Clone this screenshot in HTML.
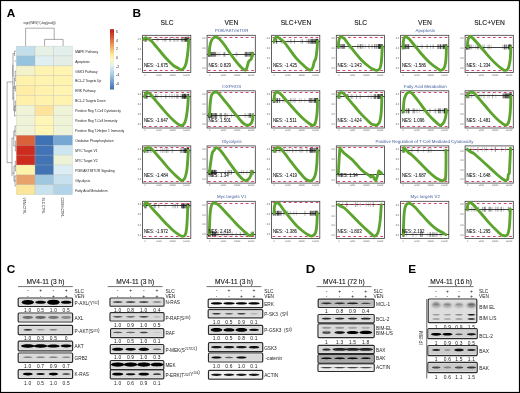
<!DOCTYPE html><html><head><meta charset="utf-8"><style>html,body{margin:0;padding:0;background:#fff;overflow:hidden}svg{display:block;will-change:transform}</style></head><body><svg width="520" height="393" viewBox="0 0 520 393" font-family='"Liberation Sans", sans-serif'>
<defs><filter id="bl" x="-30%" y="-100%" width="160%" height="300%"><feGaussianBlur stdDeviation="0.45"/></filter><filter id="bl2" x="-40%" y="-100%" width="180%" height="300%"><feGaussianBlur stdDeviation="0.9"/></filter></defs>
<rect x="0" y="0" width="520" height="393" fill="#fff"/>
<text x="6.80" y="16.60" font-size="11.8" fill="#000" text-anchor="start" font-weight="bold" >A</text>
<rect x="16.30" y="46.10" width="18.73" height="9.91" fill="#c2dfeb" stroke="#b8b8b0" stroke-width="0.35" stroke-opacity="0.7"/>
<rect x="35.03" y="46.10" width="18.73" height="9.91" fill="#e6f0e4" stroke="#b8b8b0" stroke-width="0.35" stroke-opacity="0.7"/>
<rect x="53.76" y="46.10" width="18.73" height="9.91" fill="#e2efec" stroke="#b8b8b0" stroke-width="0.35" stroke-opacity="0.7"/>
<rect x="16.30" y="56.01" width="18.73" height="9.91" fill="#96c3de" stroke="#b8b8b0" stroke-width="0.35" stroke-opacity="0.7"/>
<rect x="35.03" y="56.01" width="18.73" height="9.91" fill="#e0f0f2" stroke="#b8b8b0" stroke-width="0.35" stroke-opacity="0.7"/>
<rect x="53.76" y="56.01" width="18.73" height="9.91" fill="#e5eee6" stroke="#b8b8b0" stroke-width="0.35" stroke-opacity="0.7"/>
<rect x="16.30" y="65.92" width="18.73" height="9.91" fill="#f4f2cb" stroke="#b8b8b0" stroke-width="0.35" stroke-opacity="0.7"/>
<rect x="35.03" y="65.92" width="18.73" height="9.91" fill="#fff3b0" stroke="#b8b8b0" stroke-width="0.35" stroke-opacity="0.7"/>
<rect x="53.76" y="65.92" width="18.73" height="9.91" fill="#fff4b2" stroke="#b8b8b0" stroke-width="0.35" stroke-opacity="0.7"/>
<rect x="16.30" y="75.83" width="18.73" height="9.91" fill="#fff2ab" stroke="#b8b8b0" stroke-width="0.35" stroke-opacity="0.7"/>
<rect x="35.03" y="75.83" width="18.73" height="9.91" fill="#fff3b0" stroke="#b8b8b0" stroke-width="0.35" stroke-opacity="0.7"/>
<rect x="53.76" y="75.83" width="18.73" height="9.91" fill="#fff3b0" stroke="#b8b8b0" stroke-width="0.35" stroke-opacity="0.7"/>
<rect x="16.30" y="85.74" width="18.73" height="9.91" fill="#ffeda5" stroke="#b8b8b0" stroke-width="0.35" stroke-opacity="0.7"/>
<rect x="35.03" y="85.74" width="18.73" height="9.91" fill="#fff2ad" stroke="#b8b8b0" stroke-width="0.35" stroke-opacity="0.7"/>
<rect x="53.76" y="85.74" width="18.73" height="9.91" fill="#fff4b2" stroke="#b8b8b0" stroke-width="0.35" stroke-opacity="0.7"/>
<rect x="16.30" y="95.65" width="18.73" height="9.91" fill="#fff1aa" stroke="#b8b8b0" stroke-width="0.35" stroke-opacity="0.7"/>
<rect x="35.03" y="95.65" width="18.73" height="9.91" fill="#fff2ad" stroke="#b8b8b0" stroke-width="0.35" stroke-opacity="0.7"/>
<rect x="53.76" y="95.65" width="18.73" height="9.91" fill="#fff3b0" stroke="#b8b8b0" stroke-width="0.35" stroke-opacity="0.7"/>
<rect x="16.30" y="105.56" width="18.73" height="9.91" fill="#eff3d8" stroke="#b8b8b0" stroke-width="0.35" stroke-opacity="0.7"/>
<rect x="35.03" y="105.56" width="18.73" height="9.91" fill="#fde49a" stroke="#b8b8b0" stroke-width="0.35" stroke-opacity="0.7"/>
<rect x="53.76" y="105.56" width="18.73" height="9.91" fill="#eff3d8" stroke="#b8b8b0" stroke-width="0.35" stroke-opacity="0.7"/>
<rect x="16.30" y="115.47" width="18.73" height="9.91" fill="#eff3d8" stroke="#b8b8b0" stroke-width="0.35" stroke-opacity="0.7"/>
<rect x="35.03" y="115.47" width="18.73" height="9.91" fill="#fff5b5" stroke="#b8b8b0" stroke-width="0.35" stroke-opacity="0.7"/>
<rect x="53.76" y="115.47" width="18.73" height="9.91" fill="#eff3d8" stroke="#b8b8b0" stroke-width="0.35" stroke-opacity="0.7"/>
<rect x="16.30" y="125.38" width="18.73" height="9.91" fill="#eff3d8" stroke="#b8b8b0" stroke-width="0.35" stroke-opacity="0.7"/>
<rect x="35.03" y="125.38" width="18.73" height="9.91" fill="#fff5b5" stroke="#b8b8b0" stroke-width="0.35" stroke-opacity="0.7"/>
<rect x="53.76" y="125.38" width="18.73" height="9.91" fill="#eff3d8" stroke="#b8b8b0" stroke-width="0.35" stroke-opacity="0.7"/>
<rect x="16.30" y="135.29" width="18.73" height="9.91" fill="#d9623b" stroke="#b8b8b0" stroke-width="0.35" stroke-opacity="0.7"/>
<rect x="35.03" y="135.29" width="18.73" height="9.91" fill="#3f72b4" stroke="#b8b8b0" stroke-width="0.35" stroke-opacity="0.7"/>
<rect x="53.76" y="135.29" width="18.73" height="9.91" fill="#77a8d3" stroke="#b8b8b0" stroke-width="0.35" stroke-opacity="0.7"/>
<rect x="16.30" y="145.20" width="18.73" height="9.91" fill="#cc2b1e" stroke="#b8b8b0" stroke-width="0.35" stroke-opacity="0.7"/>
<rect x="35.03" y="145.20" width="18.73" height="9.91" fill="#4273b5" stroke="#b8b8b0" stroke-width="0.35" stroke-opacity="0.7"/>
<rect x="53.76" y="145.20" width="18.73" height="9.91" fill="#cde5f0" stroke="#b8b8b0" stroke-width="0.35" stroke-opacity="0.7"/>
<rect x="16.30" y="155.11" width="18.73" height="9.91" fill="#cc2b1e" stroke="#b8b8b0" stroke-width="0.35" stroke-opacity="0.7"/>
<rect x="35.03" y="155.11" width="18.73" height="9.91" fill="#4273b5" stroke="#b8b8b0" stroke-width="0.35" stroke-opacity="0.7"/>
<rect x="53.76" y="155.11" width="18.73" height="9.91" fill="#eef3d8" stroke="#b8b8b0" stroke-width="0.35" stroke-opacity="0.7"/>
<rect x="16.30" y="165.02" width="18.73" height="9.91" fill="#fff3aa" stroke="#b8b8b0" stroke-width="0.35" stroke-opacity="0.7"/>
<rect x="35.03" y="165.02" width="18.73" height="9.91" fill="#4273b5" stroke="#b8b8b0" stroke-width="0.35" stroke-opacity="0.7"/>
<rect x="53.76" y="165.02" width="18.73" height="9.91" fill="#dcedf3" stroke="#b8b8b0" stroke-width="0.35" stroke-opacity="0.7"/>
<rect x="16.30" y="174.93" width="18.73" height="9.91" fill="#e6a26a" stroke="#b8b8b0" stroke-width="0.35" stroke-opacity="0.7"/>
<rect x="35.03" y="174.93" width="18.73" height="9.91" fill="#9fc8e0" stroke="#b8b8b0" stroke-width="0.35" stroke-opacity="0.7"/>
<rect x="53.76" y="174.93" width="18.73" height="9.91" fill="#c8e1ee" stroke="#b8b8b0" stroke-width="0.35" stroke-opacity="0.7"/>
<rect x="16.30" y="184.84" width="18.73" height="9.91" fill="#fbe59a" stroke="#b8b8b0" stroke-width="0.35" stroke-opacity="0.7"/>
<rect x="35.03" y="184.84" width="18.73" height="9.91" fill="#c8e2ee" stroke="#b8b8b0" stroke-width="0.35" stroke-opacity="0.7"/>
<rect x="53.76" y="184.84" width="18.73" height="9.91" fill="#b3d3e8" stroke="#b8b8b0" stroke-width="0.35" stroke-opacity="0.7"/>
<text x="75.20" y="52.76" font-size="3.3" fill="#222" text-anchor="start" font-weight="normal" >MAPK Pathway</text>
<text x="75.20" y="62.67" font-size="3.3" fill="#222" text-anchor="start" font-weight="normal" >Apoptosis</text>
<text x="75.20" y="72.58" font-size="3.3" fill="#222" text-anchor="start" font-weight="normal" >GSK3 Pathway</text>
<text x="75.20" y="82.48" font-size="3.3" fill="#222" text-anchor="start" font-weight="normal" >BCL-2 Targets Up</text>
<text x="75.20" y="92.40" font-size="3.3" fill="#222" text-anchor="start" font-weight="normal" >ERK Pathway</text>
<text x="75.20" y="102.31" font-size="3.3" fill="#222" text-anchor="start" font-weight="normal" >BCL-2 Targets Down</text>
<text x="75.20" y="112.22" font-size="3.3" fill="#222" text-anchor="start" font-weight="normal" >Positive Reg T-Cell Cytotoxicity</text>
<text x="75.20" y="122.12" font-size="3.3" fill="#222" text-anchor="start" font-weight="normal" >Positive Reg T-Cell Immunity</text>
<text x="75.20" y="132.03" font-size="3.3" fill="#222" text-anchor="start" font-weight="normal" >Positive Reg T-Helper 1 Immunity</text>
<text x="75.20" y="141.94" font-size="3.3" fill="#222" text-anchor="start" font-weight="normal" >Oxidative Phosphorylation</text>
<text x="75.20" y="151.85" font-size="3.3" fill="#222" text-anchor="start" font-weight="normal" >MYC Target V1</text>
<text x="75.20" y="161.77" font-size="3.3" fill="#222" text-anchor="start" font-weight="normal" >MYC Target V2</text>
<text x="75.20" y="171.68" font-size="3.3" fill="#222" text-anchor="start" font-weight="normal" >PI3K/AKT/MTOR Signaling</text>
<text x="75.20" y="181.59" font-size="3.3" fill="#222" text-anchor="start" font-weight="normal" >Glycolysis</text>
<text x="75.20" y="191.50" font-size="3.3" fill="#222" text-anchor="start" font-weight="normal" >Fatty Acid Metabolism</text>
<text x="39.50" y="24.20" font-size="3.3" fill="#333" text-anchor="middle" font-weight="normal" >sign(NES)*(-log(padj))</text>
<path d="M25.6 46 V28.2 H54.2 V39.4 M44.6 46 V39.4 H63.1 V46" stroke="#555" stroke-width="0.5" fill="none"/>
<path d="M16 51 H14.6 V56 M16 61 H14.6 M14.6 53.5 H13 V77 M16 71 H15.2 V81 H16 M16 76 H15.2 M16 86 H15.3 V91 H16 M15.2 78.5 H14.3 V88.5 H15.3 M14.3 83.5 H13.8 M16 101 H15.3 V111 H16 M16 106 H15.3 M16 116 H15.3 M15.3 106 H14.6 V116 H15.3 M14.6 111 H13.8 V86 M13.8 98 H12.9 M12.9 65 H12.8 V100 M12.8 82 H7.1 V162.6 H12 " stroke="#555" stroke-width="0.5" fill="none"/>
<path d="M16 126 H15 V136 H16 M16 131 H15 M16 141 H15.4 V151 H16 M15.4 146 H15 M15 131 H13.8 V146 H15 M13.8 138 H12 V176 M16 161 H15.3 V171 H16 M16 166 H15.3 M16 176 H15 V186 H16 M16 181 H15 M15.3 166 H14 V181 H15 M14 173 H12" stroke="#555" stroke-width="0.5" fill="none"/>
<text x="23.36" y="197.5" font-size="3.4" fill="#222" transform="rotate(90 23.36 197.5)">VEN.CTRL</text>
<text x="42.10" y="197.5" font-size="3.4" fill="#222" transform="rotate(90 42.10 197.5)">SLC.CTRL</text>
<text x="60.83" y="197.5" font-size="3.4" fill="#222" transform="rotate(90 60.83 197.5)">COMB.CTRL</text>
<defs><linearGradient id="lg" x1="0" y1="0" x2="0" y2="1"><stop offset="0" stop-color="#c01a1a"/><stop offset="0.12" stop-color="#d0503a"/><stop offset="0.3" stop-color="#f0b060"/><stop offset="0.42" stop-color="#fde89a"/><stop offset="0.50" stop-color="#fff6c0"/><stop offset="0.60" stop-color="#e6f2ee"/><stop offset="0.75" stop-color="#a8cde4"/><stop offset="1" stop-color="#3a6db0"/></linearGradient></defs>
<rect x="110" y="29.2" width="4" height="60.3" fill="url(#lg)"/>
<text x="116.00" y="33.20" font-size="3.5" fill="#222" text-anchor="start" font-weight="normal" >6</text>
<text x="116.00" y="41.60" font-size="3.5" fill="#222" text-anchor="start" font-weight="normal" >4</text>
<text x="116.00" y="50.20" font-size="3.5" fill="#222" text-anchor="start" font-weight="normal" >2</text>
<text x="116.00" y="58.70" font-size="3.5" fill="#222" text-anchor="start" font-weight="normal" >0</text>
<text x="116.00" y="67.60" font-size="3.5" fill="#222" text-anchor="start" font-weight="normal" >-2</text>
<text x="116.00" y="76.00" font-size="3.5" fill="#222" text-anchor="start" font-weight="normal" >-4</text>
<text x="116.00" y="84.50" font-size="3.5" fill="#222" text-anchor="start" font-weight="normal" >-6</text>
<text x="132.50" y="16.80" font-size="11.8" fill="#000" text-anchor="start" font-weight="bold" >B</text>
<text x="167.00" y="25.40" font-size="6.7" fill="#111" text-anchor="middle" font-weight="normal" stroke="#111" stroke-width="0.1">SLC</text>
<text x="231.50" y="25.40" font-size="6.7" fill="#111" text-anchor="middle" font-weight="normal" stroke="#111" stroke-width="0.1">VEN</text>
<text x="296.00" y="25.40" font-size="6.7" fill="#111" text-anchor="middle" font-weight="normal" stroke="#111" stroke-width="0.1">SLC+VEN</text>
<text x="360.70" y="25.40" font-size="6.7" fill="#111" text-anchor="middle" font-weight="normal" stroke="#111" stroke-width="0.1">SLC</text>
<text x="425.00" y="25.40" font-size="6.7" fill="#111" text-anchor="middle" font-weight="normal" stroke="#111" stroke-width="0.1">VEN</text>
<text x="489.50" y="25.40" font-size="6.7" fill="#111" text-anchor="middle" font-weight="normal" stroke="#111" stroke-width="0.1">SLC+VEN</text>
<text x="231.70" y="32.30" font-size="4.4" fill="#3d5a9c" text-anchor="middle" font-weight="normal" text-rendering="geometricPrecision">PI3K/AKT/mTOR</text>
<text x="425.20" y="32.30" font-size="4.4" fill="#3d5a9c" text-anchor="middle" font-weight="normal" text-rendering="geometricPrecision">Apoptosis</text>
<text x="231.70" y="87.80" font-size="4.4" fill="#3d5a9c" text-anchor="middle" font-weight="normal" text-rendering="geometricPrecision">OXPHOS</text>
<text x="425.20" y="87.80" font-size="4.4" fill="#3d5a9c" text-anchor="middle" font-weight="normal" text-rendering="geometricPrecision">Fatty Acid Metabolism</text>
<text x="231.70" y="142.90" font-size="4.4" fill="#3d5a9c" text-anchor="middle" font-weight="normal" text-rendering="geometricPrecision">Glycolysis</text>
<text x="231.70" y="198.30" font-size="4.4" fill="#3d5a9c" text-anchor="middle" font-weight="normal" text-rendering="geometricPrecision">Myc targets V1</text>
<text x="425.20" y="198.30" font-size="4.4" fill="#3d5a9c" text-anchor="middle" font-weight="normal" text-rendering="geometricPrecision">Myc targets V2</text>
<text x="424.50" y="142.90" font-size="4.4" fill="#3d5a9c" text-anchor="middle" font-weight="normal" text-rendering="geometricPrecision">Positive Regulation of T-Cell Mediated Cytotoxicity</text>
<text x="141.20" y="39.60" font-size="2.4" fill="#555" text-anchor="end" font-weight="normal" text-rendering="geometricPrecision">0.0</text>
<text x="141.20" y="49.60" font-size="2.4" fill="#555" text-anchor="end" font-weight="normal" text-rendering="geometricPrecision">0.0</text>
<text x="141.20" y="59.60" font-size="2.4" fill="#555" text-anchor="end" font-weight="normal" text-rendering="geometricPrecision">0.0</text>
<text x="141.20" y="69.60" font-size="2.4" fill="#555" text-anchor="end" font-weight="normal" text-rendering="geometricPrecision">0.0</text>
<text x="145.10" y="75.80" font-size="2.3" fill="#555" text-anchor="middle" font-weight="normal" text-rendering="geometricPrecision">0</text>
<text x="158.90" y="75.80" font-size="2.3" fill="#555" text-anchor="middle" font-weight="normal" text-rendering="geometricPrecision">5000</text>
<text x="172.70" y="75.80" font-size="2.3" fill="#555" text-anchor="middle" font-weight="normal" text-rendering="geometricPrecision">10000</text>
<text x="186.50" y="75.80" font-size="2.3" fill="#555" text-anchor="middle" font-weight="normal" text-rendering="geometricPrecision">15000</text>
<rect x="142.60" y="35.30" width="48.2" height="37.2" fill="#fff" stroke="#3a3a3a" stroke-width="0.8"/>
<path d="M187.5 36.9v4.8M187.2 36.9v4.8M188.7 36.9v4.8M188.1 36.9v4.8M181.1 36.9v4.8M188.5 36.9v4.8M184.9 36.9v4.8M188.2 36.9v4.8M145.2 36.9v4.8M145.7 36.9v4.8M187.9 36.9v4.8M166.0 36.9v4.8M183.2 36.9v4.8M164.5 36.9v4.8" stroke="#000" stroke-opacity="0.38" stroke-width="0.5"/>
<path d="M188.4 36.9v4.8M188.7 36.9v4.8M188.6 36.9v4.8M185.0 36.9v4.8M188.7 36.9v4.8M187.6 36.9v4.8M187.1 36.9v4.8M184.5 36.9v4.8M144.7 36.9v4.8M145.5 36.9v4.8M149.4 36.9v4.8M145.9 36.9v4.8M158.1 36.9v4.8M181.6 36.9v4.8" stroke="#000" stroke-opacity="0.38" stroke-width="0.5"/>
<path d="M184.8 36.9v4.8M186.1 36.9v4.8M186.8 36.9v4.8M181.4 36.9v4.8M182.5 36.9v4.8M183.0 36.9v4.8M185.7 36.9v4.8M186.7 36.9v4.8M146.6 36.9v4.8M147.0 36.9v4.8M162.8 36.9v4.8M174.0 36.9v4.8M175.2 36.9v4.8M186.3 36.9v4.8" stroke="#000" stroke-opacity="0.38" stroke-width="0.5"/>
<path d="M188.7 36.9v4.8M188.8 36.9v4.8M182.9 36.9v4.8M185.5 36.9v4.8M187.7 36.9v4.8M188.3 36.9v4.8M188.7 36.9v4.8M187.5 36.9v4.8M146.2 36.9v4.8M176.7 36.9v4.8M177.9 36.9v4.8M178.3 36.9v4.8M170.7 36.9v4.8M165.3 36.9v4.8" stroke="#000" stroke-opacity="0.38" stroke-width="0.5"/>
<path d="M185.8 36.9v4.8M186.7 36.9v4.8M188.5 36.9v4.8M187.0 36.9v4.8M188.4 36.9v4.8M185.4 36.9v4.8M188.7 36.9v4.8M185.4 36.9v4.8M144.5 36.9v4.8M157.0 36.9v4.8M150.9 36.9v4.8M169.7 36.9v4.8M170.0 36.9v4.8M173.8 36.9v4.8" stroke="#000" stroke-opacity="0.38" stroke-width="0.5"/>
<line x1="142.60" y1="39.50" x2="190.80" y2="39.50" stroke="#111" stroke-width="0.8"/>
<line x1="143.00" y1="37.50" x2="190.40" y2="37.50" stroke="#d4456a" stroke-width="1.1" stroke-dasharray="2.7 2.7" stroke-dashoffset="-0.5"/>
<line x1="143.00" y1="70.50" x2="190.40" y2="70.50" stroke="#d4456a" stroke-width="1.1" stroke-dasharray="2.7 2.7" stroke-dashoffset="-0.5"/>
<path d="M143.50 39.50 C143.83 39.22 144.83 37.97 145.50 37.80 C146.17 37.63 146.62 38.07 147.50 38.50 C148.38 38.93 149.60 39.37 150.80 40.40 C152.00 41.43 153.25 43.02 154.70 44.70 C156.15 46.38 157.90 48.57 159.50 50.50 C161.10 52.43 162.68 54.45 164.30 56.30 C165.92 58.15 167.58 59.98 169.20 61.60 C170.82 63.22 172.55 64.95 174.00 66.00 C175.45 67.05 176.68 67.27 177.90 67.90 C179.12 68.53 180.17 69.95 181.30 69.80 C182.43 69.65 183.82 68.45 184.70 67.00 C185.58 65.55 186.05 63.85 186.60 61.10 C187.15 58.35 187.65 54.03 188.00 50.50 C188.35 46.97 188.58 41.67 188.70 39.90" fill="none" stroke="#5da42f" stroke-width="2.85" stroke-linejoin="round" stroke-linecap="round"/>
<text x="143.90" y="66.70" font-size="4.45" fill="#000" text-anchor="start" font-weight="normal" stroke="#000" stroke-width="0.03">NES: -1.675</text>
<text x="205.70" y="39.40" font-size="2.4" fill="#555" text-anchor="end" font-weight="normal" text-rendering="geometricPrecision">0.0</text>
<text x="205.70" y="49.40" font-size="2.4" fill="#555" text-anchor="end" font-weight="normal" text-rendering="geometricPrecision">0.0</text>
<text x="205.70" y="59.40" font-size="2.4" fill="#555" text-anchor="end" font-weight="normal" text-rendering="geometricPrecision">0.0</text>
<text x="205.70" y="69.40" font-size="2.4" fill="#555" text-anchor="end" font-weight="normal" text-rendering="geometricPrecision">0.0</text>
<text x="209.60" y="75.80" font-size="2.3" fill="#555" text-anchor="middle" font-weight="normal" text-rendering="geometricPrecision">0</text>
<text x="223.40" y="75.80" font-size="2.3" fill="#555" text-anchor="middle" font-weight="normal" text-rendering="geometricPrecision">5000</text>
<text x="237.20" y="75.80" font-size="2.3" fill="#555" text-anchor="middle" font-weight="normal" text-rendering="geometricPrecision">10000</text>
<text x="251.00" y="75.80" font-size="2.3" fill="#555" text-anchor="middle" font-weight="normal" text-rendering="geometricPrecision">15000</text>
<rect x="207.10" y="35.30" width="48.2" height="37.2" fill="#fff" stroke="#3a3a3a" stroke-width="0.8"/>
<path d="M208.7 51.9v4.8M209.7 51.9v4.8M209.1 51.9v4.8M209.5 51.9v4.8M211.5 51.9v4.8M250.9 51.9v4.8M252.6 51.9v4.8M252.1 51.9v4.8M245.0 51.9v4.8M253.2 51.9v4.8M251.1 51.9v4.8M211.6 51.9v4.8M208.6 51.9v4.8M247.7 51.9v4.8M224.9 51.9v4.8" stroke="#000" stroke-opacity="0.38" stroke-width="0.5"/>
<path d="M212.8 51.9v4.8M210.3 51.9v4.8M208.9 51.9v4.8M210.3 51.9v4.8M214.5 51.9v4.8M251.4 51.9v4.8M252.3 51.9v4.8M253.3 51.9v4.8M248.2 51.9v4.8M245.7 51.9v4.8M251.0 51.9v4.8M217.9 51.9v4.8M215.4 51.9v4.8M236.0 51.9v4.8M214.1 51.9v4.8" stroke="#000" stroke-opacity="0.38" stroke-width="0.5"/>
<path d="M212.3 51.9v4.8M212.5 51.9v4.8M208.7 51.9v4.8M214.4 51.9v4.8M246.7 51.9v4.8M245.9 51.9v4.8M252.3 51.9v4.8M250.9 51.9v4.8M250.0 51.9v4.8M247.1 51.9v4.8M213.2 51.9v4.8M215.9 51.9v4.8M213.1 51.9v4.8M215.2 51.9v4.8M246.5 51.9v4.8" stroke="#000" stroke-opacity="0.38" stroke-width="0.5"/>
<path d="M215.7 51.9v4.8M208.6 51.9v4.8M213.4 51.9v4.8M208.8 51.9v4.8M246.1 51.9v4.8M244.9 51.9v4.8M250.3 51.9v4.8M251.3 51.9v4.8M249.0 51.9v4.8M246.0 51.9v4.8M237.0 51.9v4.8M223.8 51.9v4.8M224.9 51.9v4.8M219.9 51.9v4.8M253.0 51.9v4.8" stroke="#000" stroke-opacity="0.38" stroke-width="0.5"/>
<path d="M213.9 51.9v4.8M210.8 51.9v4.8M208.9 51.9v4.8M210.8 51.9v4.8M252.0 51.9v4.8M252.8 51.9v4.8M249.3 51.9v4.8M249.5 51.9v4.8M248.3 51.9v4.8M246.9 51.9v4.8M211.4 51.9v4.8M211.0 51.9v4.8M209.7 51.9v4.8M224.1 51.9v4.8" stroke="#000" stroke-opacity="0.38" stroke-width="0.5"/>
<line x1="207.10" y1="54.50" x2="255.30" y2="54.50" stroke="#111" stroke-width="0.8"/>
<line x1="207.50" y1="37.50" x2="254.90" y2="37.50" stroke="#d4456a" stroke-width="1.1" stroke-dasharray="2.7 2.7" stroke-dashoffset="-0.5"/>
<line x1="207.50" y1="70.50" x2="254.90" y2="70.50" stroke="#d4456a" stroke-width="1.1" stroke-dasharray="2.7 2.7" stroke-dashoffset="-0.5"/>
<path d="M209.30 54.30 C209.35 53.28 209.47 49.72 209.60 48.20 C209.73 46.68 209.85 46.30 210.10 45.20 C210.35 44.10 210.68 42.70 211.10 41.60 C211.52 40.50 211.92 39.35 212.60 38.60 C213.28 37.85 214.27 37.22 215.20 37.10 C216.13 36.98 217.02 37.07 218.20 37.90 C219.38 38.73 220.93 40.47 222.30 42.10 C223.67 43.73 225.05 45.75 226.40 47.70 C227.75 49.65 229.05 51.85 230.40 53.80 C231.75 55.75 233.13 57.62 234.50 59.40 C235.87 61.18 237.25 62.97 238.60 64.50 C239.95 66.03 241.42 67.67 242.60 68.60 C243.78 69.53 244.93 70.43 245.70 70.10 C246.47 69.77 246.70 68.03 247.20 66.60 C247.70 65.17 248.02 62.78 248.70 61.50 C249.38 60.22 250.70 60.10 251.30 58.90 C251.90 57.70 252.05 55.23 252.30 54.30 C252.55 53.37 252.72 53.47 252.80 53.30" fill="none" stroke="#5da42f" stroke-width="2.85" stroke-linejoin="round" stroke-linecap="round"/>
<text x="208.40" y="66.70" font-size="4.45" fill="#000" text-anchor="start" font-weight="normal" stroke="#000" stroke-width="0.03">NES: 0.829</text>
<text x="270.20" y="39.40" font-size="2.4" fill="#555" text-anchor="end" font-weight="normal" text-rendering="geometricPrecision">0.0</text>
<text x="270.20" y="49.40" font-size="2.4" fill="#555" text-anchor="end" font-weight="normal" text-rendering="geometricPrecision">0.0</text>
<text x="270.20" y="59.40" font-size="2.4" fill="#555" text-anchor="end" font-weight="normal" text-rendering="geometricPrecision">0.0</text>
<text x="270.20" y="69.40" font-size="2.4" fill="#555" text-anchor="end" font-weight="normal" text-rendering="geometricPrecision">0.0</text>
<text x="274.10" y="75.80" font-size="2.3" fill="#555" text-anchor="middle" font-weight="normal" text-rendering="geometricPrecision">0</text>
<text x="287.90" y="75.80" font-size="2.3" fill="#555" text-anchor="middle" font-weight="normal" text-rendering="geometricPrecision">5000</text>
<text x="301.70" y="75.80" font-size="2.3" fill="#555" text-anchor="middle" font-weight="normal" text-rendering="geometricPrecision">10000</text>
<text x="315.50" y="75.80" font-size="2.3" fill="#555" text-anchor="middle" font-weight="normal" text-rendering="geometricPrecision">15000</text>
<rect x="271.60" y="35.30" width="48.2" height="37.2" fill="#fff" stroke="#3a3a3a" stroke-width="0.8"/>
<path d="M315.4 38.9v4.8M316.8 38.9v4.8M314.9 38.9v4.8M310.0 38.9v4.8M317.3 38.9v4.8M317.1 38.9v4.8M312.0 38.9v4.8M317.8 38.9v4.8M276.4 38.9v4.8M273.9 38.9v4.8M301.0 38.9v4.8M308.8 38.9v4.8M306.6 38.9v4.8M308.9 38.9v4.8" stroke="#000" stroke-opacity="0.38" stroke-width="0.5"/>
<path d="M315.3 38.9v4.8M311.8 38.9v4.8M317.4 38.9v4.8M311.4 38.9v4.8M312.5 38.9v4.8M312.0 38.9v4.8M312.8 38.9v4.8M317.8 38.9v4.8M274.2 38.9v4.8M273.5 38.9v4.8M313.3 38.9v4.8M276.9 38.9v4.8M294.5 38.9v4.8M316.5 38.9v4.8" stroke="#000" stroke-opacity="0.38" stroke-width="0.5"/>
<path d="M317.6 38.9v4.8M317.4 38.9v4.8M314.8 38.9v4.8M313.3 38.9v4.8M314.9 38.9v4.8M309.9 38.9v4.8M317.1 38.9v4.8M316.8 38.9v4.8M276.3 38.9v4.8M273.5 38.9v4.8M310.7 38.9v4.8M302.6 38.9v4.8M281.1 38.9v4.8M290.8 38.9v4.8" stroke="#000" stroke-opacity="0.38" stroke-width="0.5"/>
<path d="M317.6 38.9v4.8M317.8 38.9v4.8M317.8 38.9v4.8M316.9 38.9v4.8M312.4 38.9v4.8M311.6 38.9v4.8M315.0 38.9v4.8M316.9 38.9v4.8M276.6 38.9v4.8M281.9 38.9v4.8M294.5 38.9v4.8M313.8 38.9v4.8M308.4 38.9v4.8M291.0 38.9v4.8" stroke="#000" stroke-opacity="0.38" stroke-width="0.5"/>
<path d="M316.4 38.9v4.8M310.4 38.9v4.8M314.9 38.9v4.8M316.2 38.9v4.8M316.4 38.9v4.8M312.1 38.9v4.8M316.3 38.9v4.8M313.3 38.9v4.8M276.4 38.9v4.8M282.2 38.9v4.8M302.3 38.9v4.8M308.1 38.9v4.8M288.0 38.9v4.8M315.4 38.9v4.8" stroke="#000" stroke-opacity="0.38" stroke-width="0.5"/>
<line x1="271.60" y1="41.50" x2="319.80" y2="41.50" stroke="#111" stroke-width="0.8"/>
<line x1="272.00" y1="37.50" x2="319.40" y2="37.50" stroke="#d4456a" stroke-width="1.1" stroke-dasharray="2.7 2.7" stroke-dashoffset="-0.5"/>
<line x1="272.00" y1="70.50" x2="319.40" y2="70.50" stroke="#d4456a" stroke-width="1.1" stroke-dasharray="2.7 2.7" stroke-dashoffset="-0.5"/>
<path d="M274.10 41.60 C274.27 41.02 274.52 38.85 275.10 38.10 C275.68 37.35 276.58 36.85 277.60 37.10 C278.62 37.35 280.10 38.77 281.20 39.60 C282.30 40.43 282.68 40.32 284.20 42.10 C285.72 43.88 288.27 47.58 290.30 50.30 C292.33 53.02 294.35 56.03 296.40 58.40 C298.45 60.77 300.90 62.88 302.60 64.50 C304.30 66.12 305.33 67.17 306.60 68.10 C307.87 69.03 309.18 70.18 310.20 70.10 C311.22 70.02 312.02 69.03 312.70 67.60 C313.38 66.17 313.78 63.03 314.30 61.50 C314.82 59.97 315.35 60.43 315.80 58.40 C316.25 56.37 316.70 52.18 317.00 49.30 C317.30 46.42 317.50 42.47 317.60 41.10" fill="none" stroke="#5da42f" stroke-width="2.85" stroke-linejoin="round" stroke-linecap="round"/>
<text x="272.90" y="66.70" font-size="4.45" fill="#000" text-anchor="start" font-weight="normal" stroke="#000" stroke-width="0.03">NES: -1.425</text>
<text x="334.90" y="39.40" font-size="2.4" fill="#555" text-anchor="end" font-weight="normal" text-rendering="geometricPrecision">0.0</text>
<text x="334.90" y="49.40" font-size="2.4" fill="#555" text-anchor="end" font-weight="normal" text-rendering="geometricPrecision">0.0</text>
<text x="334.90" y="59.40" font-size="2.4" fill="#555" text-anchor="end" font-weight="normal" text-rendering="geometricPrecision">0.0</text>
<text x="334.90" y="69.40" font-size="2.4" fill="#555" text-anchor="end" font-weight="normal" text-rendering="geometricPrecision">0.0</text>
<text x="338.80" y="75.80" font-size="2.3" fill="#555" text-anchor="middle" font-weight="normal" text-rendering="geometricPrecision">0</text>
<text x="352.60" y="75.80" font-size="2.3" fill="#555" text-anchor="middle" font-weight="normal" text-rendering="geometricPrecision">5000</text>
<text x="366.40" y="75.80" font-size="2.3" fill="#555" text-anchor="middle" font-weight="normal" text-rendering="geometricPrecision">10000</text>
<text x="380.20" y="75.80" font-size="2.3" fill="#555" text-anchor="middle" font-weight="normal" text-rendering="geometricPrecision">15000</text>
<rect x="336.30" y="35.30" width="48.2" height="37.2" fill="#fff" stroke="#3a3a3a" stroke-width="0.8"/>
<path d="M342.2 44.0v4.8M343.0 44.0v4.8M339.3 44.0v4.8M341.5 44.0v4.8M343.2 44.0v4.8M378.5 44.0v4.8M380.6 44.0v4.8M374.6 44.0v4.8M379.9 44.0v4.8M379.6 44.0v4.8M378.8 44.0v4.8M350.2 44.0v4.8M378.6 44.0v4.8M368.8 44.0v4.8M369.1 44.0v4.8" stroke="#000" stroke-opacity="0.38" stroke-width="0.5"/>
<path d="M338.3 44.0v4.8M338.2 44.0v4.8M340.7 44.0v4.8M340.5 44.0v4.8M338.5 44.0v4.8M381.3 44.0v4.8M379.7 44.0v4.8M379.3 44.0v4.8M381.8 44.0v4.8M377.0 44.0v4.8M376.3 44.0v4.8M372.3 44.0v4.8M357.6 44.0v4.8M358.0 44.0v4.8M377.0 44.0v4.8" stroke="#000" stroke-opacity="0.38" stroke-width="0.5"/>
<path d="M338.1 44.0v4.8M343.2 44.0v4.8M338.1 44.0v4.8M344.3 44.0v4.8M381.4 44.0v4.8M380.1 44.0v4.8M378.5 44.0v4.8M379.0 44.0v4.8M382.5 44.0v4.8M378.8 44.0v4.8M342.5 44.0v4.8M360.5 44.0v4.8M365.2 44.0v4.8M361.6 44.0v4.8M379.9 44.0v4.8" stroke="#000" stroke-opacity="0.38" stroke-width="0.5"/>
<path d="M338.2 44.0v4.8M344.7 44.0v4.8M337.8 44.0v4.8M339.8 44.0v4.8M381.1 44.0v4.8M382.1 44.0v4.8M374.8 44.0v4.8M379.1 44.0v4.8M376.1 44.0v4.8M380.8 44.0v4.8M362.8 44.0v4.8M362.9 44.0v4.8M360.4 44.0v4.8M359.2 44.0v4.8M349.4 44.0v4.8" stroke="#000" stroke-opacity="0.38" stroke-width="0.5"/>
<path d="M344.0 44.0v4.8M341.6 44.0v4.8M344.6 44.0v4.8M343.6 44.0v4.8M381.4 44.0v4.8M374.7 44.0v4.8M380.1 44.0v4.8M382.5 44.0v4.8M381.9 44.0v4.8M379.2 44.0v4.8M348.9 44.0v4.8M371.8 44.0v4.8M360.7 44.0v4.8M379.9 44.0v4.8" stroke="#000" stroke-opacity="0.38" stroke-width="0.5"/>
<line x1="336.30" y1="46.50" x2="384.50" y2="46.50" stroke="#111" stroke-width="0.8"/>
<line x1="336.70" y1="37.50" x2="384.10" y2="37.50" stroke="#d4456a" stroke-width="1.1" stroke-dasharray="2.7 2.7" stroke-dashoffset="-0.5"/>
<line x1="336.70" y1="70.50" x2="384.10" y2="70.50" stroke="#d4456a" stroke-width="1.1" stroke-dasharray="2.7 2.7" stroke-dashoffset="-0.5"/>
<path d="M338.60 46.70 C338.60 45.93 338.43 43.53 338.60 42.10 C338.77 40.67 339.18 38.98 339.60 38.10 C340.02 37.22 340.33 36.72 341.10 36.80 C341.87 36.88 342.85 37.20 344.20 38.60 C345.55 40.00 347.35 42.83 349.20 45.20 C351.05 47.57 353.27 50.35 355.30 52.80 C357.33 55.25 359.35 57.78 361.40 59.90 C363.45 62.02 365.73 63.97 367.60 65.50 C369.47 67.03 371.08 68.28 372.60 69.10 C374.12 69.92 375.50 70.48 376.70 70.40 C377.90 70.32 379.03 69.92 379.80 68.60 C380.57 67.28 380.93 65.22 381.30 62.50 C381.67 59.78 381.83 54.93 382.00 52.30 C382.17 49.67 382.25 47.63 382.30 46.70" fill="none" stroke="#5da42f" stroke-width="2.85" stroke-linejoin="round" stroke-linecap="round"/>
<text x="337.60" y="66.70" font-size="4.45" fill="#000" text-anchor="start" font-weight="normal" stroke="#000" stroke-width="0.03">NES: -1.343</text>
<text x="399.20" y="39.40" font-size="2.4" fill="#555" text-anchor="end" font-weight="normal" text-rendering="geometricPrecision">0.0</text>
<text x="399.20" y="49.40" font-size="2.4" fill="#555" text-anchor="end" font-weight="normal" text-rendering="geometricPrecision">0.0</text>
<text x="399.20" y="59.40" font-size="2.4" fill="#555" text-anchor="end" font-weight="normal" text-rendering="geometricPrecision">0.0</text>
<text x="399.20" y="69.40" font-size="2.4" fill="#555" text-anchor="end" font-weight="normal" text-rendering="geometricPrecision">0.0</text>
<text x="403.10" y="75.80" font-size="2.3" fill="#555" text-anchor="middle" font-weight="normal" text-rendering="geometricPrecision">0</text>
<text x="416.90" y="75.80" font-size="2.3" fill="#555" text-anchor="middle" font-weight="normal" text-rendering="geometricPrecision">5000</text>
<text x="430.70" y="75.80" font-size="2.3" fill="#555" text-anchor="middle" font-weight="normal" text-rendering="geometricPrecision">10000</text>
<text x="444.50" y="75.80" font-size="2.3" fill="#555" text-anchor="middle" font-weight="normal" text-rendering="geometricPrecision">15000</text>
<rect x="400.60" y="35.30" width="48.2" height="37.2" fill="#fff" stroke="#3a3a3a" stroke-width="0.8"/>
<path d="M405.1 44.3v4.8M404.2 44.3v4.8M407.1 44.3v4.8M402.5 44.3v4.8M403.9 44.3v4.8M444.3 44.3v4.8M441.3 44.3v4.8M445.1 44.3v4.8M440.5 44.3v4.8M440.7 44.3v4.8M440.2 44.3v4.8M433.4 44.3v4.8M405.3 44.3v4.8M440.4 44.3v4.8M426.8 44.3v4.8" stroke="#000" stroke-opacity="0.38" stroke-width="0.5"/>
<path d="M408.7 44.3v4.8M402.2 44.3v4.8M408.2 44.3v4.8M408.0 44.3v4.8M404.5 44.3v4.8M443.5 44.3v4.8M446.8 44.3v4.8M442.4 44.3v4.8M438.2 44.3v4.8M445.5 44.3v4.8M445.6 44.3v4.8M406.1 44.3v4.8M444.0 44.3v4.8M405.1 44.3v4.8M443.5 44.3v4.8" stroke="#000" stroke-opacity="0.38" stroke-width="0.5"/>
<path d="M407.6 44.3v4.8M402.9 44.3v4.8M402.5 44.3v4.8M408.9 44.3v4.8M438.0 44.3v4.8M445.0 44.3v4.8M443.1 44.3v4.8M443.5 44.3v4.8M446.5 44.3v4.8M446.4 44.3v4.8M408.8 44.3v4.8M404.7 44.3v4.8M430.5 44.3v4.8M440.7 44.3v4.8M414.1 44.3v4.8" stroke="#000" stroke-opacity="0.38" stroke-width="0.5"/>
<path d="M402.5 44.3v4.8M402.2 44.3v4.8M406.4 44.3v4.8M402.8 44.3v4.8M440.0 44.3v4.8M446.0 44.3v4.8M444.2 44.3v4.8M446.7 44.3v4.8M445.6 44.3v4.8M444.3 44.3v4.8M443.2 44.3v4.8M432.9 44.3v4.8M437.9 44.3v4.8M422.4 44.3v4.8M407.9 44.3v4.8" stroke="#000" stroke-opacity="0.38" stroke-width="0.5"/>
<path d="M402.4 44.3v4.8M406.0 44.3v4.8M405.9 44.3v4.8M408.7 44.3v4.8M446.2 44.3v4.8M445.2 44.3v4.8M446.8 44.3v4.8M438.1 44.3v4.8M446.7 44.3v4.8M439.0 44.3v4.8M427.6 44.3v4.8M421.1 44.3v4.8M405.8 44.3v4.8M417.3 44.3v4.8" stroke="#000" stroke-opacity="0.38" stroke-width="0.5"/>
<line x1="400.60" y1="46.50" x2="448.80" y2="46.50" stroke="#111" stroke-width="0.8"/>
<line x1="401.00" y1="37.50" x2="448.40" y2="37.50" stroke="#d4456a" stroke-width="1.1" stroke-dasharray="2.7 2.7" stroke-dashoffset="-0.5"/>
<line x1="401.00" y1="70.50" x2="448.40" y2="70.50" stroke="#d4456a" stroke-width="1.1" stroke-dasharray="2.7 2.7" stroke-dashoffset="-0.5"/>
<path d="M403.30 48.20 C403.30 47.18 403.17 43.78 403.30 42.10 C403.43 40.42 403.67 38.98 404.10 38.10 C404.53 37.22 405.05 36.63 405.90 36.80 C406.75 36.97 407.80 37.70 409.20 39.10 C410.60 40.50 412.43 42.92 414.30 45.20 C416.17 47.48 418.37 50.43 420.40 52.80 C422.43 55.17 424.47 57.37 426.50 59.40 C428.53 61.43 430.73 63.47 432.60 65.00 C434.47 66.53 436.35 67.70 437.70 68.60 C439.05 69.50 439.68 70.40 440.70 70.40 C441.72 70.40 442.98 69.92 443.80 68.60 C444.62 67.28 445.18 65.22 445.60 62.50 C446.02 59.78 446.18 54.93 446.30 52.30 C446.42 49.67 446.30 47.63 446.30 46.70" fill="none" stroke="#5da42f" stroke-width="2.85" stroke-linejoin="round" stroke-linecap="round"/>
<text x="401.90" y="66.70" font-size="4.45" fill="#000" text-anchor="start" font-weight="normal" stroke="#000" stroke-width="0.03">NES: -1.586</text>
<text x="463.70" y="39.40" font-size="2.4" fill="#555" text-anchor="end" font-weight="normal" text-rendering="geometricPrecision">0.0</text>
<text x="463.70" y="49.40" font-size="2.4" fill="#555" text-anchor="end" font-weight="normal" text-rendering="geometricPrecision">0.0</text>
<text x="463.70" y="59.40" font-size="2.4" fill="#555" text-anchor="end" font-weight="normal" text-rendering="geometricPrecision">0.0</text>
<text x="463.70" y="69.40" font-size="2.4" fill="#555" text-anchor="end" font-weight="normal" text-rendering="geometricPrecision">0.0</text>
<text x="467.60" y="75.80" font-size="2.3" fill="#555" text-anchor="middle" font-weight="normal" text-rendering="geometricPrecision">0</text>
<text x="481.40" y="75.80" font-size="2.3" fill="#555" text-anchor="middle" font-weight="normal" text-rendering="geometricPrecision">5000</text>
<text x="495.20" y="75.80" font-size="2.3" fill="#555" text-anchor="middle" font-weight="normal" text-rendering="geometricPrecision">10000</text>
<text x="509.00" y="75.80" font-size="2.3" fill="#555" text-anchor="middle" font-weight="normal" text-rendering="geometricPrecision">15000</text>
<rect x="465.10" y="35.30" width="48.2" height="37.2" fill="#fff" stroke="#3a3a3a" stroke-width="0.8"/>
<path d="M469.3 44.6v4.8M467.2 44.6v4.8M469.1 44.6v4.8M466.6 44.6v4.8M473.1 44.6v4.8M504.5 44.6v4.8M509.5 44.6v4.8M509.5 44.6v4.8M510.1 44.6v4.8M506.4 44.6v4.8M510.7 44.6v4.8M491.1 44.6v4.8M466.6 44.6v4.8M489.2 44.6v4.8M468.5 44.6v4.8" stroke="#000" stroke-opacity="0.38" stroke-width="0.5"/>
<path d="M467.4 44.6v4.8M467.8 44.6v4.8M467.1 44.6v4.8M471.1 44.6v4.8M466.8 44.6v4.8M509.1 44.6v4.8M504.5 44.6v4.8M511.2 44.6v4.8M510.7 44.6v4.8M510.0 44.6v4.8M508.6 44.6v4.8M477.5 44.6v4.8M483.7 44.6v4.8M466.8 44.6v4.8M467.6 44.6v4.8" stroke="#000" stroke-opacity="0.38" stroke-width="0.5"/>
<path d="M466.9 44.6v4.8M467.8 44.6v4.8M468.1 44.6v4.8M469.5 44.6v4.8M504.7 44.6v4.8M508.1 44.6v4.8M506.0 44.6v4.8M510.9 44.6v4.8M511.1 44.6v4.8M510.2 44.6v4.8M478.4 44.6v4.8M509.8 44.6v4.8M487.8 44.6v4.8M478.4 44.6v4.8M480.2 44.6v4.8" stroke="#000" stroke-opacity="0.38" stroke-width="0.5"/>
<path d="M467.1 44.6v4.8M471.3 44.6v4.8M466.6 44.6v4.8M467.2 44.6v4.8M508.8 44.6v4.8M506.2 44.6v4.8M506.8 44.6v4.8M511.1 44.6v4.8M504.4 44.6v4.8M509.9 44.6v4.8M509.6 44.6v4.8M480.4 44.6v4.8M489.1 44.6v4.8M470.6 44.6v4.8M477.0 44.6v4.8" stroke="#000" stroke-opacity="0.38" stroke-width="0.5"/>
<path d="M466.7 44.6v4.8M467.7 44.6v4.8M467.5 44.6v4.8M468.9 44.6v4.8M508.2 44.6v4.8M502.6 44.6v4.8M509.0 44.6v4.8M505.6 44.6v4.8M504.0 44.6v4.8M508.5 44.6v4.8M510.1 44.6v4.8M482.5 44.6v4.8M475.6 44.6v4.8M484.5 44.6v4.8" stroke="#000" stroke-opacity="0.38" stroke-width="0.5"/>
<line x1="465.10" y1="47.50" x2="513.30" y2="47.50" stroke="#111" stroke-width="0.8"/>
<line x1="465.50" y1="37.50" x2="512.90" y2="37.50" stroke="#d4456a" stroke-width="1.1" stroke-dasharray="2.7 2.7" stroke-dashoffset="-0.5"/>
<line x1="465.50" y1="70.50" x2="512.90" y2="70.50" stroke="#d4456a" stroke-width="1.1" stroke-dasharray="2.7 2.7" stroke-dashoffset="-0.5"/>
<path d="M467.60 47.20 C467.60 46.35 467.43 43.62 467.60 42.10 C467.77 40.58 468.15 39.03 468.60 38.10 C469.05 37.17 469.53 36.42 470.30 36.50 C471.07 36.58 471.87 37.32 473.20 38.60 C474.53 39.88 476.43 42.08 478.30 44.20 C480.17 46.32 482.37 48.93 484.40 51.30 C486.43 53.67 488.47 56.20 490.50 58.40 C492.53 60.60 494.73 62.80 496.60 64.50 C498.47 66.20 500.35 67.62 501.70 68.60 C503.05 69.58 503.68 70.32 504.70 70.40 C505.72 70.48 507.03 70.08 507.80 69.10 C508.57 68.12 508.88 66.28 509.30 64.50 C509.72 62.72 510.05 61.28 510.30 58.40 C510.55 55.52 510.72 49.07 510.80 47.20" fill="none" stroke="#5da42f" stroke-width="2.85" stroke-linejoin="round" stroke-linecap="round"/>
<text x="466.40" y="66.70" font-size="4.45" fill="#000" text-anchor="start" font-weight="normal" stroke="#000" stroke-width="0.03">NES: -1.334</text>
<text x="141.20" y="94.60" font-size="2.4" fill="#555" text-anchor="end" font-weight="normal" text-rendering="geometricPrecision">0.0</text>
<text x="141.20" y="104.82" font-size="2.4" fill="#555" text-anchor="end" font-weight="normal" text-rendering="geometricPrecision">0.0</text>
<text x="141.20" y="115.04" font-size="2.4" fill="#555" text-anchor="end" font-weight="normal" text-rendering="geometricPrecision">0.0</text>
<text x="141.20" y="125.26" font-size="2.4" fill="#555" text-anchor="end" font-weight="normal" text-rendering="geometricPrecision">0.0</text>
<text x="145.10" y="131.30" font-size="2.3" fill="#555" text-anchor="middle" font-weight="normal" text-rendering="geometricPrecision">0</text>
<text x="158.90" y="131.30" font-size="2.3" fill="#555" text-anchor="middle" font-weight="normal" text-rendering="geometricPrecision">5000</text>
<text x="172.70" y="131.30" font-size="2.3" fill="#555" text-anchor="middle" font-weight="normal" text-rendering="geometricPrecision">10000</text>
<text x="186.50" y="131.30" font-size="2.3" fill="#555" text-anchor="middle" font-weight="normal" text-rendering="geometricPrecision">15000</text>
<rect x="142.60" y="90.80" width="48.2" height="37.2" fill="#fff" stroke="#3a3a3a" stroke-width="0.8"/>
<path d="M185.4 93.9v4.8M182.3 93.9v4.8M184.0 93.9v4.8M185.0 93.9v4.8M186.1 93.9v4.8M182.1 93.9v4.8M188.5 93.9v4.8M185.0 93.9v4.8M146.6 93.9v4.8M144.2 93.9v4.8M176.7 93.9v4.8M161.2 93.9v4.8M172.8 93.9v4.8M157.7 93.9v4.8" stroke="#000" stroke-opacity="0.38" stroke-width="0.5"/>
<path d="M185.9 93.9v4.8M187.0 93.9v4.8M184.8 93.9v4.8M183.9 93.9v4.8M182.8 93.9v4.8M184.4 93.9v4.8M187.2 93.9v4.8M185.0 93.9v4.8M146.4 93.9v4.8M146.4 93.9v4.8M153.3 93.9v4.8M165.5 93.9v4.8M147.6 93.9v4.8M169.5 93.9v4.8" stroke="#000" stroke-opacity="0.38" stroke-width="0.5"/>
<path d="M183.7 93.9v4.8M187.5 93.9v4.8M188.7 93.9v4.8M183.0 93.9v4.8M183.1 93.9v4.8M184.3 93.9v4.8M188.6 93.9v4.8M184.5 93.9v4.8M145.4 93.9v4.8M144.6 93.9v4.8M177.2 93.9v4.8M174.7 93.9v4.8M150.7 93.9v4.8M144.7 93.9v4.8" stroke="#000" stroke-opacity="0.38" stroke-width="0.5"/>
<path d="M184.7 93.9v4.8M180.9 93.9v4.8M182.8 93.9v4.8M188.5 93.9v4.8M182.9 93.9v4.8M188.0 93.9v4.8M182.8 93.9v4.8M186.2 93.9v4.8M145.5 93.9v4.8M147.4 93.9v4.8M187.7 93.9v4.8M178.4 93.9v4.8M155.5 93.9v4.8M146.8 93.9v4.8" stroke="#000" stroke-opacity="0.38" stroke-width="0.5"/>
<path d="M184.1 93.9v4.8M188.4 93.9v4.8M182.1 93.9v4.8M185.9 93.9v4.8M185.4 93.9v4.8M188.8 93.9v4.8M185.6 93.9v4.8M188.8 93.9v4.8M146.0 93.9v4.8M156.0 93.9v4.8M166.2 93.9v4.8M171.7 93.9v4.8M177.3 93.9v4.8M156.1 93.9v4.8" stroke="#000" stroke-opacity="0.38" stroke-width="0.5"/>
<line x1="142.60" y1="96.50" x2="190.80" y2="96.50" stroke="#111" stroke-width="0.8"/>
<line x1="143.00" y1="92.50" x2="190.40" y2="92.50" stroke="#d4456a" stroke-width="1.1" stroke-dasharray="2.7 2.7" stroke-dashoffset="-0.5"/>
<line x1="143.00" y1="126.50" x2="190.40" y2="126.50" stroke="#d4456a" stroke-width="1.1" stroke-dasharray="2.7 2.7" stroke-dashoffset="-0.5"/>
<path d="M144.60 96.60 C144.77 96.10 145.15 94.32 145.60 93.60 C146.05 92.88 146.53 92.22 147.30 92.30 C148.07 92.38 148.87 92.78 150.20 94.10 C151.53 95.42 153.43 98.00 155.30 100.20 C157.17 102.40 159.37 104.93 161.40 107.30 C163.43 109.67 165.47 112.20 167.50 114.40 C169.53 116.60 171.73 118.80 173.60 120.50 C175.47 122.20 177.35 123.75 178.70 124.60 C180.05 125.45 180.68 125.93 181.70 125.60 C182.72 125.27 183.98 124.30 184.80 122.60 C185.62 120.90 186.10 118.28 186.60 115.40 C187.10 112.52 187.52 108.43 187.80 105.30 C188.08 102.17 188.22 98.05 188.30 96.60" fill="none" stroke="#5da42f" stroke-width="2.85" stroke-linejoin="round" stroke-linecap="round"/>
<text x="143.90" y="122.20" font-size="4.45" fill="#000" text-anchor="start" font-weight="normal" stroke="#000" stroke-width="0.03">NES: -1.647</text>
<text x="205.70" y="94.60" font-size="2.4" fill="#555" text-anchor="end" font-weight="normal" text-rendering="geometricPrecision">0.0</text>
<text x="205.70" y="104.82" font-size="2.4" fill="#555" text-anchor="end" font-weight="normal" text-rendering="geometricPrecision">0.0</text>
<text x="205.70" y="115.04" font-size="2.4" fill="#555" text-anchor="end" font-weight="normal" text-rendering="geometricPrecision">0.0</text>
<text x="205.70" y="125.26" font-size="2.4" fill="#555" text-anchor="end" font-weight="normal" text-rendering="geometricPrecision">0.0</text>
<text x="209.60" y="131.30" font-size="2.3" fill="#555" text-anchor="middle" font-weight="normal" text-rendering="geometricPrecision">0</text>
<text x="223.40" y="131.30" font-size="2.3" fill="#555" text-anchor="middle" font-weight="normal" text-rendering="geometricPrecision">5000</text>
<text x="237.20" y="131.30" font-size="2.3" fill="#555" text-anchor="middle" font-weight="normal" text-rendering="geometricPrecision">10000</text>
<text x="251.00" y="131.30" font-size="2.3" fill="#555" text-anchor="middle" font-weight="normal" text-rendering="geometricPrecision">15000</text>
<rect x="207.10" y="90.80" width="48.2" height="37.2" fill="#fff" stroke="#3a3a3a" stroke-width="0.8"/>
<path d="M212.9 113.0v4.8M211.0 113.0v4.8M216.4 113.0v4.8M216.2 113.0v4.8M209.3 113.0v4.8M208.9 113.0v4.8M209.4 113.0v4.8M211.2 113.0v4.8M252.5 113.0v4.8M253.1 113.0v4.8M225.2 113.0v4.8M227.7 113.0v4.8M221.4 113.0v4.8M217.1 113.0v4.8" stroke="#000" stroke-opacity="0.38" stroke-width="0.5"/>
<path d="M213.1 113.0v4.8M211.0 113.0v4.8M215.8 113.0v4.8M210.8 113.0v4.8M212.0 113.0v4.8M214.5 113.0v4.8M215.4 113.0v4.8M210.8 113.0v4.8M249.9 113.0v4.8M249.3 113.0v4.8M226.2 113.0v4.8M220.9 113.0v4.8M250.4 113.0v4.8M225.3 113.0v4.8" stroke="#000" stroke-opacity="0.38" stroke-width="0.5"/>
<path d="M212.9 113.0v4.8M208.9 113.0v4.8M208.6 113.0v4.8M209.6 113.0v4.8M209.0 113.0v4.8M211.3 113.0v4.8M211.1 113.0v4.8M209.8 113.0v4.8M253.3 113.0v4.8M250.6 113.0v4.8M253.2 113.0v4.8M210.8 113.0v4.8M219.7 113.0v4.8M251.3 113.0v4.8" stroke="#000" stroke-opacity="0.38" stroke-width="0.5"/>
<path d="M209.7 113.0v4.8M215.3 113.0v4.8M210.9 113.0v4.8M209.3 113.0v4.8M211.5 113.0v4.8M215.2 113.0v4.8M208.6 113.0v4.8M208.9 113.0v4.8M250.4 113.0v4.8M248.9 113.0v4.8M234.9 113.0v4.8M213.1 113.0v4.8M220.5 113.0v4.8M248.1 113.0v4.8" stroke="#000" stroke-opacity="0.38" stroke-width="0.5"/>
<path d="M211.4 113.0v4.8M209.2 113.0v4.8M214.5 113.0v4.8M216.0 113.0v4.8M216.0 113.0v4.8M213.2 113.0v4.8M208.6 113.0v4.8M210.1 113.0v4.8M249.9 113.0v4.8M221.6 113.0v4.8M224.7 113.0v4.8M245.9 113.0v4.8M231.4 113.0v4.8M244.9 113.0v4.8" stroke="#000" stroke-opacity="0.38" stroke-width="0.5"/>
<line x1="207.10" y1="115.50" x2="255.30" y2="115.50" stroke="#111" stroke-width="0.8"/>
<line x1="207.50" y1="92.50" x2="254.90" y2="92.50" stroke="#d4456a" stroke-width="1.1" stroke-dasharray="2.7 2.7" stroke-dashoffset="-0.5"/>
<line x1="207.50" y1="126.50" x2="254.90" y2="126.50" stroke="#d4456a" stroke-width="1.1" stroke-dasharray="2.7 2.7" stroke-dashoffset="-0.5"/>
<path d="M209.60 115.40 C209.65 114.05 209.73 109.83 209.90 107.30 C210.07 104.77 210.32 102.23 210.60 100.20 C210.88 98.17 211.10 96.37 211.60 95.10 C212.10 93.83 212.83 93.10 213.60 92.60 C214.37 92.10 215.35 91.93 216.20 92.10 C217.05 92.27 217.52 92.42 218.70 93.60 C219.88 94.78 221.68 97.25 223.30 99.20 C224.92 101.15 226.70 103.18 228.40 105.30 C230.10 107.42 231.80 109.78 233.50 111.90 C235.20 114.02 237.08 116.22 238.60 118.00 C240.12 119.78 241.42 121.47 242.60 122.60 C243.78 123.73 244.68 124.38 245.70 124.80 C246.72 125.22 247.77 125.38 248.70 125.10 C249.63 124.82 250.65 124.03 251.30 123.10 C251.95 122.17 252.35 120.78 252.60 119.50 C252.85 118.22 252.77 116.08 252.80 115.40" fill="none" stroke="#5da42f" stroke-width="2.85" stroke-linejoin="round" stroke-linecap="round"/>
<text x="208.40" y="122.20" font-size="4.45" fill="#000" text-anchor="start" font-weight="normal" stroke="#000" stroke-width="0.03">NES: 1.501</text>
<text x="270.20" y="94.60" font-size="2.4" fill="#555" text-anchor="end" font-weight="normal" text-rendering="geometricPrecision">0.0</text>
<text x="270.20" y="104.82" font-size="2.4" fill="#555" text-anchor="end" font-weight="normal" text-rendering="geometricPrecision">0.0</text>
<text x="270.20" y="115.04" font-size="2.4" fill="#555" text-anchor="end" font-weight="normal" text-rendering="geometricPrecision">0.0</text>
<text x="270.20" y="125.26" font-size="2.4" fill="#555" text-anchor="end" font-weight="normal" text-rendering="geometricPrecision">0.0</text>
<text x="274.10" y="131.30" font-size="2.3" fill="#555" text-anchor="middle" font-weight="normal" text-rendering="geometricPrecision">0</text>
<text x="287.90" y="131.30" font-size="2.3" fill="#555" text-anchor="middle" font-weight="normal" text-rendering="geometricPrecision">5000</text>
<text x="301.70" y="131.30" font-size="2.3" fill="#555" text-anchor="middle" font-weight="normal" text-rendering="geometricPrecision">10000</text>
<text x="315.50" y="131.30" font-size="2.3" fill="#555" text-anchor="middle" font-weight="normal" text-rendering="geometricPrecision">15000</text>
<rect x="271.60" y="90.80" width="48.2" height="37.2" fill="#fff" stroke="#3a3a3a" stroke-width="0.8"/>
<path d="M276.7 98.0v4.8M273.2 98.0v4.8M274.2 98.0v4.8M274.5 98.0v4.8M276.9 98.0v4.8M317.2 98.0v4.8M310.1 98.0v4.8M317.6 98.0v4.8M314.0 98.0v4.8M314.4 98.0v4.8M309.3 98.0v4.8M282.8 98.0v4.8M315.7 98.0v4.8M304.8 98.0v4.8M290.6 98.0v4.8" stroke="#000" stroke-opacity="0.38" stroke-width="0.5"/>
<path d="M279.3 98.0v4.8M277.6 98.0v4.8M273.2 98.0v4.8M274.3 98.0v4.8M274.3 98.0v4.8M317.0 98.0v4.8M308.9 98.0v4.8M316.0 98.0v4.8M310.3 98.0v4.8M315.7 98.0v4.8M317.4 98.0v4.8M285.2 98.0v4.8M311.0 98.0v4.8M313.1 98.0v4.8M314.5 98.0v4.8" stroke="#000" stroke-opacity="0.38" stroke-width="0.5"/>
<path d="M279.6 98.0v4.8M275.3 98.0v4.8M279.5 98.0v4.8M277.6 98.0v4.8M314.1 98.0v4.8M310.1 98.0v4.8M315.1 98.0v4.8M317.6 98.0v4.8M312.0 98.0v4.8M316.0 98.0v4.8M295.6 98.0v4.8M284.2 98.0v4.8M312.1 98.0v4.8M294.3 98.0v4.8M310.0 98.0v4.8" stroke="#000" stroke-opacity="0.38" stroke-width="0.5"/>
<path d="M276.0 98.0v4.8M277.8 98.0v4.8M273.4 98.0v4.8M280.0 98.0v4.8M315.6 98.0v4.8M314.7 98.0v4.8M317.3 98.0v4.8M316.8 98.0v4.8M315.4 98.0v4.8M317.7 98.0v4.8M301.2 98.0v4.8M291.0 98.0v4.8M274.1 98.0v4.8M299.3 98.0v4.8M311.3 98.0v4.8" stroke="#000" stroke-opacity="0.38" stroke-width="0.5"/>
<path d="M277.5 98.0v4.8M276.8 98.0v4.8M275.4 98.0v4.8M274.0 98.0v4.8M317.2 98.0v4.8M316.9 98.0v4.8M317.0 98.0v4.8M316.6 98.0v4.8M315.4 98.0v4.8M316.5 98.0v4.8M311.7 98.0v4.8M293.0 98.0v4.8M274.5 98.0v4.8M273.1 98.0v4.8" stroke="#000" stroke-opacity="0.38" stroke-width="0.5"/>
<line x1="271.60" y1="100.50" x2="319.80" y2="100.50" stroke="#111" stroke-width="0.8"/>
<line x1="272.00" y1="92.50" x2="319.40" y2="92.50" stroke="#d4456a" stroke-width="1.1" stroke-dasharray="2.7 2.7" stroke-dashoffset="-0.5"/>
<line x1="272.00" y1="126.50" x2="319.40" y2="126.50" stroke="#d4456a" stroke-width="1.1" stroke-dasharray="2.7 2.7" stroke-dashoffset="-0.5"/>
<path d="M274.30 100.70 C274.30 100.02 274.17 97.87 274.30 96.60 C274.43 95.33 274.72 93.85 275.10 93.10 C275.48 92.35 275.75 92.02 276.60 92.10 C277.45 92.18 278.75 92.42 280.20 93.60 C281.65 94.78 283.43 97.08 285.30 99.20 C287.17 101.32 289.37 104.02 291.40 106.30 C293.43 108.58 295.47 110.78 297.50 112.90 C299.53 115.02 301.73 117.30 303.60 119.00 C305.47 120.70 307.18 122.03 308.70 123.10 C310.22 124.17 311.60 125.40 312.70 125.40 C313.80 125.40 314.62 124.77 315.30 123.10 C315.98 121.43 316.45 118.03 316.80 115.40 C317.15 112.77 317.30 109.83 317.40 107.30 C317.50 104.77 317.40 101.38 317.40 100.20" fill="none" stroke="#5da42f" stroke-width="2.85" stroke-linejoin="round" stroke-linecap="round"/>
<text x="272.90" y="122.20" font-size="4.45" fill="#000" text-anchor="start" font-weight="normal" stroke="#000" stroke-width="0.03">NES: -1.511</text>
<text x="334.90" y="94.60" font-size="2.4" fill="#555" text-anchor="end" font-weight="normal" text-rendering="geometricPrecision">0.0</text>
<text x="334.90" y="104.82" font-size="2.4" fill="#555" text-anchor="end" font-weight="normal" text-rendering="geometricPrecision">0.0</text>
<text x="334.90" y="115.04" font-size="2.4" fill="#555" text-anchor="end" font-weight="normal" text-rendering="geometricPrecision">0.0</text>
<text x="334.90" y="125.26" font-size="2.4" fill="#555" text-anchor="end" font-weight="normal" text-rendering="geometricPrecision">0.0</text>
<text x="338.80" y="131.30" font-size="2.3" fill="#555" text-anchor="middle" font-weight="normal" text-rendering="geometricPrecision">0</text>
<text x="352.60" y="131.30" font-size="2.3" fill="#555" text-anchor="middle" font-weight="normal" text-rendering="geometricPrecision">5000</text>
<text x="366.40" y="131.30" font-size="2.3" fill="#555" text-anchor="middle" font-weight="normal" text-rendering="geometricPrecision">10000</text>
<text x="380.20" y="131.30" font-size="2.3" fill="#555" text-anchor="middle" font-weight="normal" text-rendering="geometricPrecision">15000</text>
<rect x="336.30" y="90.80" width="48.2" height="37.2" fill="#fff" stroke="#3a3a3a" stroke-width="0.8"/>
<path d="M374.8 94.2v4.8M378.1 94.2v4.8M380.2 94.2v4.8M375.5 94.2v4.8M378.6 94.2v4.8M379.1 94.2v4.8M381.3 94.2v4.8M380.1 94.2v4.8M338.4 94.2v4.8M338.3 94.2v4.8M352.9 94.2v4.8M370.8 94.2v4.8M374.5 94.2v4.8M380.4 94.2v4.8" stroke="#000" stroke-opacity="0.38" stroke-width="0.5"/>
<path d="M381.6 94.2v4.8M375.2 94.2v4.8M379.4 94.2v4.8M378.5 94.2v4.8M378.0 94.2v4.8M380.7 94.2v4.8M380.2 94.2v4.8M381.7 94.2v4.8M337.8 94.2v4.8M339.7 94.2v4.8M356.6 94.2v4.8M360.4 94.2v4.8M348.1 94.2v4.8M360.0 94.2v4.8" stroke="#000" stroke-opacity="0.38" stroke-width="0.5"/>
<path d="M382.3 94.2v4.8M377.7 94.2v4.8M382.5 94.2v4.8M381.3 94.2v4.8M382.3 94.2v4.8M381.8 94.2v4.8M375.0 94.2v4.8M381.6 94.2v4.8M339.1 94.2v4.8M341.0 94.2v4.8M368.3 94.2v4.8M347.0 94.2v4.8M347.7 94.2v4.8M346.2 94.2v4.8" stroke="#000" stroke-opacity="0.38" stroke-width="0.5"/>
<path d="M382.1 94.2v4.8M378.5 94.2v4.8M377.1 94.2v4.8M382.2 94.2v4.8M382.4 94.2v4.8M378.9 94.2v4.8M378.5 94.2v4.8M375.0 94.2v4.8M339.8 94.2v4.8M347.9 94.2v4.8M346.7 94.2v4.8M381.2 94.2v4.8M371.8 94.2v4.8M347.8 94.2v4.8" stroke="#000" stroke-opacity="0.38" stroke-width="0.5"/>
<path d="M379.7 94.2v4.8M377.3 94.2v4.8M381.7 94.2v4.8M381.6 94.2v4.8M379.6 94.2v4.8M382.5 94.2v4.8M375.9 94.2v4.8M377.9 94.2v4.8M338.8 94.2v4.8M339.3 94.2v4.8M373.4 94.2v4.8M351.7 94.2v4.8M351.0 94.2v4.8M356.4 94.2v4.8" stroke="#000" stroke-opacity="0.38" stroke-width="0.5"/>
<line x1="336.30" y1="96.50" x2="384.50" y2="96.50" stroke="#111" stroke-width="0.8"/>
<line x1="336.70" y1="92.50" x2="384.10" y2="92.50" stroke="#d4456a" stroke-width="1.1" stroke-dasharray="2.7 2.7" stroke-dashoffset="-0.5"/>
<line x1="336.70" y1="126.50" x2="384.10" y2="126.50" stroke="#d4456a" stroke-width="1.1" stroke-dasharray="2.7 2.7" stroke-dashoffset="-0.5"/>
<path d="M338.60 97.10 C338.68 96.60 338.72 94.90 339.10 94.10 C339.48 93.30 340.05 92.30 340.90 92.30 C341.75 92.30 342.80 92.78 344.20 94.10 C345.60 95.42 347.43 98.00 349.30 100.20 C351.17 102.40 353.37 104.93 355.40 107.30 C357.43 109.67 359.47 112.20 361.50 114.40 C363.53 116.60 365.92 118.88 367.60 120.50 C369.28 122.12 370.42 123.38 371.60 124.10 C372.78 124.82 373.85 124.63 374.70 124.80 C375.55 124.97 375.93 125.47 376.70 125.10 C377.47 124.73 378.62 124.03 379.30 122.60 C379.98 121.17 380.42 119.22 380.80 116.50 C381.18 113.78 381.43 109.62 381.60 106.30 C381.77 102.98 381.77 98.22 381.80 96.60" fill="none" stroke="#5da42f" stroke-width="2.85" stroke-linejoin="round" stroke-linecap="round"/>
<text x="337.60" y="122.20" font-size="4.45" fill="#000" text-anchor="start" font-weight="normal" stroke="#000" stroke-width="0.03">NES: -1.424</text>
<text x="399.20" y="94.60" font-size="2.4" fill="#555" text-anchor="end" font-weight="normal" text-rendering="geometricPrecision">0.0</text>
<text x="399.20" y="104.82" font-size="2.4" fill="#555" text-anchor="end" font-weight="normal" text-rendering="geometricPrecision">0.0</text>
<text x="399.20" y="115.04" font-size="2.4" fill="#555" text-anchor="end" font-weight="normal" text-rendering="geometricPrecision">0.0</text>
<text x="399.20" y="125.26" font-size="2.4" fill="#555" text-anchor="end" font-weight="normal" text-rendering="geometricPrecision">0.0</text>
<text x="403.10" y="131.30" font-size="2.3" fill="#555" text-anchor="middle" font-weight="normal" text-rendering="geometricPrecision">0</text>
<text x="416.90" y="131.30" font-size="2.3" fill="#555" text-anchor="middle" font-weight="normal" text-rendering="geometricPrecision">5000</text>
<text x="430.70" y="131.30" font-size="2.3" fill="#555" text-anchor="middle" font-weight="normal" text-rendering="geometricPrecision">10000</text>
<text x="444.50" y="131.30" font-size="2.3" fill="#555" text-anchor="middle" font-weight="normal" text-rendering="geometricPrecision">15000</text>
<rect x="400.60" y="90.80" width="48.2" height="37.2" fill="#fff" stroke="#3a3a3a" stroke-width="0.8"/>
<path d="M406.0 108.5v4.8M409.0 108.5v4.8M408.2 108.5v4.8M403.5 108.5v4.8M406.0 108.5v4.8M446.8 108.5v4.8M438.3 108.5v4.8M444.3 108.5v4.8M446.0 108.5v4.8M440.3 108.5v4.8M438.9 108.5v4.8M414.3 108.5v4.8M416.2 108.5v4.8M430.4 108.5v4.8M444.9 108.5v4.8" stroke="#000" stroke-opacity="0.38" stroke-width="0.5"/>
<path d="M408.7 108.5v4.8M402.5 108.5v4.8M408.0 108.5v4.8M402.7 108.5v4.8M403.8 108.5v4.8M445.5 108.5v4.8M446.0 108.5v4.8M446.7 108.5v4.8M444.8 108.5v4.8M440.8 108.5v4.8M445.6 108.5v4.8M444.9 108.5v4.8M414.4 108.5v4.8M444.3 108.5v4.8M444.7 108.5v4.8" stroke="#000" stroke-opacity="0.38" stroke-width="0.5"/>
<path d="M402.5 108.5v4.8M402.2 108.5v4.8M406.6 108.5v4.8M408.6 108.5v4.8M444.8 108.5v4.8M444.9 108.5v4.8M444.9 108.5v4.8M443.9 108.5v4.8M439.2 108.5v4.8M446.7 108.5v4.8M435.5 108.5v4.8M429.7 108.5v4.8M402.3 108.5v4.8M403.2 108.5v4.8M419.4 108.5v4.8" stroke="#000" stroke-opacity="0.38" stroke-width="0.5"/>
<path d="M403.9 108.5v4.8M402.2 108.5v4.8M409.2 108.5v4.8M406.7 108.5v4.8M445.1 108.5v4.8M438.4 108.5v4.8M440.1 108.5v4.8M444.8 108.5v4.8M446.8 108.5v4.8M446.7 108.5v4.8M442.3 108.5v4.8M413.8 108.5v4.8M435.9 108.5v4.8M412.6 108.5v4.8M413.3 108.5v4.8" stroke="#000" stroke-opacity="0.38" stroke-width="0.5"/>
<path d="M402.8 108.5v4.8M403.9 108.5v4.8M408.5 108.5v4.8M402.1 108.5v4.8M446.2 108.5v4.8M446.4 108.5v4.8M440.1 108.5v4.8M438.9 108.5v4.8M444.4 108.5v4.8M446.7 108.5v4.8M417.3 108.5v4.8M434.1 108.5v4.8M443.1 108.5v4.8M423.3 108.5v4.8" stroke="#000" stroke-opacity="0.38" stroke-width="0.5"/>
<line x1="400.60" y1="110.50" x2="448.80" y2="110.50" stroke="#111" stroke-width="0.8"/>
<line x1="401.00" y1="92.50" x2="448.40" y2="92.50" stroke="#d4456a" stroke-width="1.1" stroke-dasharray="2.7 2.7" stroke-dashoffset="-0.5"/>
<line x1="401.00" y1="126.50" x2="448.40" y2="126.50" stroke="#d4456a" stroke-width="1.1" stroke-dasharray="2.7 2.7" stroke-dashoffset="-0.5"/>
<path d="M403.30 111.90 C403.35 110.80 403.47 107.25 403.60 105.30 C403.73 103.35 403.82 101.73 404.10 100.20 C404.38 98.67 404.80 97.25 405.30 96.10 C405.80 94.95 406.37 93.97 407.10 93.30 C407.83 92.63 408.85 92.05 409.70 92.10 C410.55 92.15 411.02 92.42 412.20 93.60 C413.38 94.78 415.18 97.17 416.80 99.20 C418.42 101.23 420.20 103.52 421.90 105.80 C423.60 108.08 425.30 110.78 427.00 112.90 C428.70 115.02 430.50 116.88 432.10 118.50 C433.70 120.12 435.25 121.45 436.60 122.60 C437.95 123.75 439.08 125.32 440.20 125.40 C441.32 125.48 442.45 124.25 443.30 123.10 C444.15 121.95 444.80 120.37 445.30 118.50 C445.80 116.63 446.13 113.28 446.30 111.90 C446.47 110.52 446.30 110.48 446.30 110.20" fill="none" stroke="#5da42f" stroke-width="2.85" stroke-linejoin="round" stroke-linecap="round"/>
<text x="401.90" y="122.20" font-size="4.45" fill="#000" text-anchor="start" font-weight="normal" stroke="#000" stroke-width="0.03">NES: 1.096</text>
<text x="463.70" y="94.60" font-size="2.4" fill="#555" text-anchor="end" font-weight="normal" text-rendering="geometricPrecision">0.0</text>
<text x="463.70" y="104.82" font-size="2.4" fill="#555" text-anchor="end" font-weight="normal" text-rendering="geometricPrecision">0.0</text>
<text x="463.70" y="115.04" font-size="2.4" fill="#555" text-anchor="end" font-weight="normal" text-rendering="geometricPrecision">0.0</text>
<text x="463.70" y="125.26" font-size="2.4" fill="#555" text-anchor="end" font-weight="normal" text-rendering="geometricPrecision">0.0</text>
<text x="467.60" y="131.30" font-size="2.3" fill="#555" text-anchor="middle" font-weight="normal" text-rendering="geometricPrecision">0</text>
<text x="481.40" y="131.30" font-size="2.3" fill="#555" text-anchor="middle" font-weight="normal" text-rendering="geometricPrecision">5000</text>
<text x="495.20" y="131.30" font-size="2.3" fill="#555" text-anchor="middle" font-weight="normal" text-rendering="geometricPrecision">10000</text>
<text x="509.00" y="131.30" font-size="2.3" fill="#555" text-anchor="middle" font-weight="normal" text-rendering="geometricPrecision">15000</text>
<rect x="465.10" y="90.80" width="48.2" height="37.2" fill="#fff" stroke="#3a3a3a" stroke-width="0.8"/>
<path d="M509.2 93.5v4.8M506.3 93.5v4.8M510.0 93.5v4.8M506.2 93.5v4.8M510.0 93.5v4.8M511.1 93.5v4.8M510.5 93.5v4.8M505.1 93.5v4.8M468.1 93.5v4.8M467.0 93.5v4.8M484.3 93.5v4.8M495.8 93.5v4.8M504.2 93.5v4.8M475.1 93.5v4.8" stroke="#000" stroke-opacity="0.38" stroke-width="0.5"/>
<path d="M508.7 93.5v4.8M505.4 93.5v4.8M509.7 93.5v4.8M510.4 93.5v4.8M503.5 93.5v4.8M511.1 93.5v4.8M509.3 93.5v4.8M507.1 93.5v4.8M467.4 93.5v4.8M466.8 93.5v4.8M511.0 93.5v4.8M510.9 93.5v4.8M507.5 93.5v4.8M510.1 93.5v4.8" stroke="#000" stroke-opacity="0.38" stroke-width="0.5"/>
<path d="M504.2 93.5v4.8M506.0 93.5v4.8M505.9 93.5v4.8M511.2 93.5v4.8M504.7 93.5v4.8M508.7 93.5v4.8M507.6 93.5v4.8M511.0 93.5v4.8M468.9 93.5v4.8M469.6 93.5v4.8M489.3 93.5v4.8M471.2 93.5v4.8M468.4 93.5v4.8M492.7 93.5v4.8" stroke="#000" stroke-opacity="0.38" stroke-width="0.5"/>
<path d="M510.8 93.5v4.8M507.7 93.5v4.8M511.2 93.5v4.8M511.3 93.5v4.8M503.4 93.5v4.8M506.7 93.5v4.8M507.0 93.5v4.8M505.2 93.5v4.8M466.9 93.5v4.8M492.4 93.5v4.8M476.9 93.5v4.8M487.8 93.5v4.8M479.7 93.5v4.8M508.2 93.5v4.8" stroke="#000" stroke-opacity="0.38" stroke-width="0.5"/>
<path d="M505.6 93.5v4.8M509.9 93.5v4.8M510.7 93.5v4.8M508.2 93.5v4.8M510.3 93.5v4.8M509.1 93.5v4.8M506.2 93.5v4.8M510.2 93.5v4.8M467.0 93.5v4.8M481.2 93.5v4.8M502.7 93.5v4.8M503.2 93.5v4.8M471.9 93.5v4.8M483.2 93.5v4.8" stroke="#000" stroke-opacity="0.38" stroke-width="0.5"/>
<line x1="465.10" y1="95.50" x2="513.30" y2="95.50" stroke="#111" stroke-width="0.8"/>
<line x1="465.50" y1="92.50" x2="512.90" y2="92.50" stroke="#d4456a" stroke-width="1.1" stroke-dasharray="2.7 2.7" stroke-dashoffset="-0.5"/>
<line x1="465.50" y1="126.50" x2="512.90" y2="126.50" stroke="#d4456a" stroke-width="1.1" stroke-dasharray="2.7 2.7" stroke-dashoffset="-0.5"/>
<path d="M467.60 96.60 C467.68 96.10 467.68 94.32 468.10 93.60 C468.52 92.88 469.25 92.47 470.10 92.30 C470.95 92.13 472.27 92.22 473.20 92.60 C474.13 92.98 474.52 93.33 475.70 94.60 C476.88 95.87 478.52 98.08 480.30 100.20 C482.08 102.32 484.37 104.93 486.40 107.30 C488.43 109.67 490.47 112.20 492.50 114.40 C494.53 116.60 496.90 118.97 498.60 120.50 C500.30 122.03 501.52 122.83 502.70 123.60 C503.88 124.37 504.77 125.18 505.70 125.10 C506.63 125.02 507.62 124.53 508.30 123.10 C508.98 121.67 509.42 119.30 509.80 116.50 C510.18 113.70 510.43 109.70 510.60 106.30 C510.77 102.90 510.77 97.80 510.80 96.10" fill="none" stroke="#5da42f" stroke-width="2.85" stroke-linejoin="round" stroke-linecap="round"/>
<text x="466.40" y="122.20" font-size="4.45" fill="#000" text-anchor="start" font-weight="normal" stroke="#000" stroke-width="0.03">NES: -1.481</text>
<text x="141.20" y="149.90" font-size="2.4" fill="#555" text-anchor="end" font-weight="normal" text-rendering="geometricPrecision">0.0</text>
<text x="141.20" y="160.06" font-size="2.4" fill="#555" text-anchor="end" font-weight="normal" text-rendering="geometricPrecision">0.0</text>
<text x="141.20" y="170.21" font-size="2.4" fill="#555" text-anchor="end" font-weight="normal" text-rendering="geometricPrecision">0.0</text>
<text x="141.20" y="180.37" font-size="2.4" fill="#555" text-anchor="end" font-weight="normal" text-rendering="geometricPrecision">0.0</text>
<text x="145.10" y="186.40" font-size="2.3" fill="#555" text-anchor="middle" font-weight="normal" text-rendering="geometricPrecision">0</text>
<text x="158.90" y="186.40" font-size="2.3" fill="#555" text-anchor="middle" font-weight="normal" text-rendering="geometricPrecision">5000</text>
<text x="172.70" y="186.40" font-size="2.3" fill="#555" text-anchor="middle" font-weight="normal" text-rendering="geometricPrecision">10000</text>
<text x="186.50" y="186.40" font-size="2.3" fill="#555" text-anchor="middle" font-weight="normal" text-rendering="geometricPrecision">15000</text>
<rect x="142.60" y="145.90" width="48.2" height="37.2" fill="#fff" stroke="#3a3a3a" stroke-width="0.8"/>
<path d="M182.4 148.2v4.8M188.6 148.2v4.8M188.4 148.2v4.8M188.2 148.2v4.8M187.6 148.2v4.8M188.6 148.2v4.8M188.4 148.2v4.8M181.3 148.2v4.8M147.0 148.2v4.8M144.4 148.2v4.8M162.3 148.2v4.8M168.8 148.2v4.8M160.7 148.2v4.8M185.5 148.2v4.8" stroke="#000" stroke-opacity="0.38" stroke-width="0.5"/>
<path d="M186.6 148.2v4.8M185.3 148.2v4.8M188.2 148.2v4.8M188.8 148.2v4.8M188.2 148.2v4.8M187.0 148.2v4.8M184.3 148.2v4.8M187.5 148.2v4.8M147.7 148.2v4.8M144.1 148.2v4.8M183.6 148.2v4.8M172.7 148.2v4.8M166.6 148.2v4.8M149.0 148.2v4.8" stroke="#000" stroke-opacity="0.38" stroke-width="0.5"/>
<path d="M187.9 148.2v4.8M185.1 148.2v4.8M187.9 148.2v4.8M187.5 148.2v4.8M183.2 148.2v4.8M185.7 148.2v4.8M186.9 148.2v4.8M185.6 148.2v4.8M144.9 148.2v4.8M147.2 148.2v4.8M164.7 148.2v4.8M184.8 148.2v4.8M150.6 148.2v4.8M166.0 148.2v4.8" stroke="#000" stroke-opacity="0.38" stroke-width="0.5"/>
<path d="M183.4 148.2v4.8M188.1 148.2v4.8M185.3 148.2v4.8M184.5 148.2v4.8M185.7 148.2v4.8M184.9 148.2v4.8M187.7 148.2v4.8M187.3 148.2v4.8M144.4 148.2v4.8M163.0 148.2v4.8M151.4 148.2v4.8M148.1 148.2v4.8M156.8 148.2v4.8M180.1 148.2v4.8" stroke="#000" stroke-opacity="0.38" stroke-width="0.5"/>
<path d="M181.4 148.2v4.8M187.2 148.2v4.8M184.7 148.2v4.8M188.3 148.2v4.8M188.7 148.2v4.8M188.6 148.2v4.8M187.6 148.2v4.8M186.8 148.2v4.8M146.3 148.2v4.8M180.8 148.2v4.8M144.8 148.2v4.8M171.9 148.2v4.8M167.4 148.2v4.8M187.3 148.2v4.8" stroke="#000" stroke-opacity="0.38" stroke-width="0.5"/>
<line x1="142.60" y1="150.50" x2="190.80" y2="150.50" stroke="#111" stroke-width="0.8"/>
<line x1="143.00" y1="147.50" x2="190.40" y2="147.50" stroke="#d4456a" stroke-width="1.1" stroke-dasharray="2.7 2.7" stroke-dashoffset="-0.5"/>
<line x1="143.00" y1="181.50" x2="190.40" y2="181.50" stroke="#d4456a" stroke-width="1.1" stroke-dasharray="2.7 2.7" stroke-dashoffset="-0.5"/>
<path d="M144.60 151.10 C144.77 150.68 145.15 149.18 145.60 148.60 C146.05 148.02 146.53 147.68 147.30 147.60 C148.07 147.52 149.30 147.68 150.20 148.10 C151.10 148.52 151.52 148.92 152.70 150.10 C153.88 151.28 155.52 153.17 157.30 155.20 C159.08 157.23 161.37 159.93 163.40 162.30 C165.43 164.67 167.47 167.20 169.50 169.40 C171.53 171.60 173.90 173.88 175.60 175.50 C177.30 177.12 178.68 178.25 179.70 179.10 C180.72 179.95 180.85 180.77 181.70 180.60 C182.55 180.43 183.95 179.80 184.80 178.10 C185.65 176.40 186.30 173.53 186.80 170.40 C187.30 167.27 187.55 162.68 187.80 159.30 C188.05 155.92 188.22 151.63 188.30 150.10" fill="none" stroke="#5da42f" stroke-width="2.85" stroke-linejoin="round" stroke-linecap="round"/>
<text x="143.90" y="177.30" font-size="4.45" fill="#000" text-anchor="start" font-weight="normal" stroke="#000" stroke-width="0.03">NES: -1.484</text>
<text x="205.70" y="150.20" font-size="2.4" fill="#555" text-anchor="end" font-weight="normal" text-rendering="geometricPrecision">0.0</text>
<text x="205.70" y="160.26" font-size="2.4" fill="#555" text-anchor="end" font-weight="normal" text-rendering="geometricPrecision">0.0</text>
<text x="205.70" y="170.33" font-size="2.4" fill="#555" text-anchor="end" font-weight="normal" text-rendering="geometricPrecision">0.0</text>
<text x="205.70" y="180.39" font-size="2.4" fill="#555" text-anchor="end" font-weight="normal" text-rendering="geometricPrecision">0.0</text>
<text x="209.60" y="186.40" font-size="2.3" fill="#555" text-anchor="middle" font-weight="normal" text-rendering="geometricPrecision">0</text>
<text x="223.40" y="186.40" font-size="2.3" fill="#555" text-anchor="middle" font-weight="normal" text-rendering="geometricPrecision">5000</text>
<text x="237.20" y="186.40" font-size="2.3" fill="#555" text-anchor="middle" font-weight="normal" text-rendering="geometricPrecision">10000</text>
<text x="251.00" y="186.40" font-size="2.3" fill="#555" text-anchor="middle" font-weight="normal" text-rendering="geometricPrecision">15000</text>
<rect x="207.10" y="145.90" width="48.2" height="37.2" fill="#fff" stroke="#3a3a3a" stroke-width="0.8"/>
<path d="M209.2 169.9v4.8M208.7 169.9v4.8M214.5 169.9v4.8M214.8 169.9v4.8M211.4 169.9v4.8M215.4 169.9v4.8M214.7 169.9v4.8M209.8 169.9v4.8M252.0 169.9v4.8M252.8 169.9v4.8M229.8 169.9v4.8M228.4 169.9v4.8M241.4 169.9v4.8M225.5 169.9v4.8" stroke="#000" stroke-opacity="0.38" stroke-width="0.5"/>
<path d="M208.9 169.9v4.8M215.7 169.9v4.8M209.0 169.9v4.8M214.6 169.9v4.8M210.3 169.9v4.8M208.6 169.9v4.8M208.9 169.9v4.8M210.6 169.9v4.8M252.0 169.9v4.8M250.3 169.9v4.8M213.4 169.9v4.8M231.4 169.9v4.8M243.4 169.9v4.8M251.1 169.9v4.8" stroke="#000" stroke-opacity="0.38" stroke-width="0.5"/>
<path d="M215.9 169.9v4.8M210.4 169.9v4.8M214.1 169.9v4.8M209.1 169.9v4.8M208.9 169.9v4.8M211.8 169.9v4.8M212.1 169.9v4.8M212.0 169.9v4.8M253.3 169.9v4.8M250.2 169.9v4.8M214.3 169.9v4.8M210.4 169.9v4.8M231.5 169.9v4.8M214.7 169.9v4.8" stroke="#000" stroke-opacity="0.38" stroke-width="0.5"/>
<path d="M216.3 169.9v4.8M215.4 169.9v4.8M209.3 169.9v4.8M209.3 169.9v4.8M209.5 169.9v4.8M213.8 169.9v4.8M211.7 169.9v4.8M210.7 169.9v4.8M251.1 169.9v4.8M229.1 169.9v4.8M227.8 169.9v4.8M237.0 169.9v4.8M211.0 169.9v4.8M246.9 169.9v4.8" stroke="#000" stroke-opacity="0.38" stroke-width="0.5"/>
<path d="M211.1 169.9v4.8M212.3 169.9v4.8M210.5 169.9v4.8M210.5 169.9v4.8M213.4 169.9v4.8M208.6 169.9v4.8M212.4 169.9v4.8M212.7 169.9v4.8M251.8 169.9v4.8M216.6 169.9v4.8M212.7 169.9v4.8M212.3 169.9v4.8M231.1 169.9v4.8M253.1 169.9v4.8" stroke="#000" stroke-opacity="0.38" stroke-width="0.5"/>
<line x1="207.10" y1="172.50" x2="255.30" y2="172.50" stroke="#111" stroke-width="0.8"/>
<line x1="207.50" y1="147.50" x2="254.90" y2="147.50" stroke="#d4456a" stroke-width="1.1" stroke-dasharray="2.7 2.7" stroke-dashoffset="-0.5"/>
<line x1="207.50" y1="181.50" x2="254.90" y2="181.50" stroke="#d4456a" stroke-width="1.1" stroke-dasharray="2.7 2.7" stroke-dashoffset="-0.5"/>
<path d="M209.30 173.00 C209.52 171.38 210.22 166.10 210.60 163.30 C210.98 160.50 211.27 158.07 211.60 156.20 C211.93 154.33 212.17 153.12 212.60 152.10 C213.03 151.08 213.68 150.80 214.20 150.10 C214.72 149.40 214.87 148.07 215.70 147.90 C216.53 147.73 217.93 148.05 219.20 149.10 C220.47 150.15 221.77 152.17 223.30 154.20 C224.83 156.23 226.70 158.93 228.40 161.30 C230.10 163.67 231.80 166.12 233.50 168.40 C235.20 170.68 237.08 173.22 238.60 175.00 C240.12 176.78 241.42 178.17 242.60 179.10 C243.78 180.03 244.68 180.60 245.70 180.60 C246.72 180.60 247.85 179.95 248.70 179.10 C249.55 178.25 250.25 176.80 250.80 175.50 C251.35 174.20 251.80 172.00 252.00 171.30" fill="none" stroke="#5da42f" stroke-width="2.85" stroke-linejoin="round" stroke-linecap="round"/>
<text x="208.40" y="177.30" font-size="4.45" fill="#000" text-anchor="start" font-weight="normal" stroke="#000" stroke-width="0.03">NES: 1.34</text>
<text x="270.20" y="149.90" font-size="2.4" fill="#555" text-anchor="end" font-weight="normal" text-rendering="geometricPrecision">0.0</text>
<text x="270.20" y="160.06" font-size="2.4" fill="#555" text-anchor="end" font-weight="normal" text-rendering="geometricPrecision">0.0</text>
<text x="270.20" y="170.21" font-size="2.4" fill="#555" text-anchor="end" font-weight="normal" text-rendering="geometricPrecision">0.0</text>
<text x="270.20" y="180.37" font-size="2.4" fill="#555" text-anchor="end" font-weight="normal" text-rendering="geometricPrecision">0.0</text>
<text x="274.10" y="186.40" font-size="2.3" fill="#555" text-anchor="middle" font-weight="normal" text-rendering="geometricPrecision">0</text>
<text x="287.90" y="186.40" font-size="2.3" fill="#555" text-anchor="middle" font-weight="normal" text-rendering="geometricPrecision">5000</text>
<text x="301.70" y="186.40" font-size="2.3" fill="#555" text-anchor="middle" font-weight="normal" text-rendering="geometricPrecision">10000</text>
<text x="315.50" y="186.40" font-size="2.3" fill="#555" text-anchor="middle" font-weight="normal" text-rendering="geometricPrecision">15000</text>
<rect x="271.60" y="145.90" width="48.2" height="37.2" fill="#fff" stroke="#3a3a3a" stroke-width="0.8"/>
<path d="M312.9 147.9v4.8M310.3 147.9v4.8M317.7 147.9v4.8M316.8 147.9v4.8M317.1 147.9v4.8M317.3 147.9v4.8M317.3 147.9v4.8M316.2 147.9v4.8M273.2 147.9v4.8M273.6 147.9v4.8M292.9 147.9v4.8M284.4 147.9v4.8M287.1 147.9v4.8M292.4 147.9v4.8" stroke="#000" stroke-opacity="0.38" stroke-width="0.5"/>
<path d="M312.0 147.9v4.8M310.8 147.9v4.8M316.3 147.9v4.8M312.0 147.9v4.8M316.9 147.9v4.8M317.4 147.9v4.8M312.3 147.9v4.8M311.3 147.9v4.8M276.6 147.9v4.8M276.6 147.9v4.8M281.0 147.9v4.8M301.7 147.9v4.8M273.2 147.9v4.8M296.0 147.9v4.8" stroke="#000" stroke-opacity="0.38" stroke-width="0.5"/>
<path d="M317.2 147.9v4.8M317.3 147.9v4.8M312.7 147.9v4.8M317.4 147.9v4.8M315.1 147.9v4.8M310.6 147.9v4.8M317.5 147.9v4.8M314.7 147.9v4.8M274.9 147.9v4.8M274.7 147.9v4.8M306.3 147.9v4.8M317.1 147.9v4.8M274.6 147.9v4.8M313.1 147.9v4.8" stroke="#000" stroke-opacity="0.38" stroke-width="0.5"/>
<path d="M310.0 147.9v4.8M312.3 147.9v4.8M317.4 147.9v4.8M315.1 147.9v4.8M316.5 147.9v4.8M313.5 147.9v4.8M314.9 147.9v4.8M314.4 147.9v4.8M274.0 147.9v4.8M289.2 147.9v4.8M275.3 147.9v4.8M299.3 147.9v4.8M279.8 147.9v4.8M279.0 147.9v4.8" stroke="#000" stroke-opacity="0.38" stroke-width="0.5"/>
<path d="M315.2 147.9v4.8M310.6 147.9v4.8M311.0 147.9v4.8M310.8 147.9v4.8M317.8 147.9v4.8M311.1 147.9v4.8M313.9 147.9v4.8M311.2 147.9v4.8M275.6 147.9v4.8M307.3 147.9v4.8M309.7 147.9v4.8M302.8 147.9v4.8M300.6 147.9v4.8M283.3 147.9v4.8" stroke="#000" stroke-opacity="0.38" stroke-width="0.5"/>
<line x1="271.60" y1="150.50" x2="319.80" y2="150.50" stroke="#111" stroke-width="0.8"/>
<line x1="272.00" y1="147.50" x2="319.40" y2="147.50" stroke="#d4456a" stroke-width="1.1" stroke-dasharray="2.7 2.7" stroke-dashoffset="-0.5"/>
<line x1="272.00" y1="181.50" x2="319.40" y2="181.50" stroke="#d4456a" stroke-width="1.1" stroke-dasharray="2.7 2.7" stroke-dashoffset="-0.5"/>
<path d="M274.30 151.30 C274.52 150.85 274.97 149.22 275.60 148.60 C276.23 147.98 277.17 147.52 278.10 147.60 C279.03 147.68 280.00 148.00 281.20 149.10 C282.40 150.20 283.78 152.25 285.30 154.20 C286.82 156.15 288.62 158.60 290.30 160.80 C291.98 163.00 293.70 165.28 295.40 167.40 C297.10 169.52 298.88 171.63 300.50 173.50 C302.12 175.37 303.73 177.42 305.10 178.60 C306.47 179.78 307.68 180.23 308.70 180.60 C309.72 180.97 310.37 181.13 311.20 180.80 C312.03 180.47 312.97 179.82 313.70 178.60 C314.43 177.38 315.08 175.88 315.60 173.50 C316.12 171.12 316.52 167.52 316.80 164.30 C317.08 161.08 317.20 156.53 317.30 154.20 C317.40 151.87 317.38 150.95 317.40 150.30" fill="none" stroke="#5da42f" stroke-width="2.85" stroke-linejoin="round" stroke-linecap="round"/>
<text x="272.90" y="177.30" font-size="4.45" fill="#000" text-anchor="start" font-weight="normal" stroke="#000" stroke-width="0.03">NES: -1.419</text>
<text x="334.90" y="150.20" font-size="2.4" fill="#555" text-anchor="end" font-weight="normal" text-rendering="geometricPrecision">0.0</text>
<text x="334.90" y="160.36" font-size="2.4" fill="#555" text-anchor="end" font-weight="normal" text-rendering="geometricPrecision">0.0</text>
<text x="334.90" y="170.51" font-size="2.4" fill="#555" text-anchor="end" font-weight="normal" text-rendering="geometricPrecision">0.0</text>
<text x="334.90" y="180.67" font-size="2.4" fill="#555" text-anchor="end" font-weight="normal" text-rendering="geometricPrecision">0.0</text>
<text x="338.80" y="186.40" font-size="2.3" fill="#555" text-anchor="middle" font-weight="normal" text-rendering="geometricPrecision">0</text>
<text x="352.60" y="186.40" font-size="2.3" fill="#555" text-anchor="middle" font-weight="normal" text-rendering="geometricPrecision">5000</text>
<text x="366.40" y="186.40" font-size="2.3" fill="#555" text-anchor="middle" font-weight="normal" text-rendering="geometricPrecision">10000</text>
<text x="380.20" y="186.40" font-size="2.3" fill="#555" text-anchor="middle" font-weight="normal" text-rendering="geometricPrecision">15000</text>
<rect x="336.30" y="145.90" width="48.2" height="37.2" fill="#fff" stroke="#3a3a3a" stroke-width="0.8"/>
<line x1="336.30" y1="174.50" x2="384.50" y2="174.50" stroke="#111" stroke-width="0.8"/>
<line x1="336.70" y1="147.50" x2="384.10" y2="147.50" stroke="#d4456a" stroke-width="1.1" stroke-dasharray="2.7 2.7" stroke-dashoffset="-0.5"/>
<line x1="336.70" y1="181.50" x2="384.10" y2="181.50" stroke="#d4456a" stroke-width="1.1" stroke-dasharray="2.7 2.7" stroke-dashoffset="-0.5"/>
<path d="M338.30 174.00 L339.10 159.30 L339.90 147.90 L342.10 151.10 L344.70 153.70 L347.20 155.70 L351.80 159.30 L356.40 164.30 L361.00 169.40 L364.50 172.50 L368.60 175.00 L371.10 177.10 L372.70 175.50 L374.20 178.60 L375.70 180.80 L377.20 176.60 L377.90 174.50 L378.80 171.00 L380.30 172.00 L381.80 173.50" fill="none" stroke="#5da42f" stroke-width="2.85" stroke-linejoin="round" stroke-linecap="round"/>
<text x="337.60" y="177.30" font-size="4.45" fill="#000" text-anchor="start" font-weight="normal" stroke="#000" stroke-width="0.03">NES: 1.34</text>
<text x="399.20" y="149.90" font-size="2.4" fill="#555" text-anchor="end" font-weight="normal" text-rendering="geometricPrecision">0.0</text>
<text x="399.20" y="160.06" font-size="2.4" fill="#555" text-anchor="end" font-weight="normal" text-rendering="geometricPrecision">0.0</text>
<text x="399.20" y="170.21" font-size="2.4" fill="#555" text-anchor="end" font-weight="normal" text-rendering="geometricPrecision">0.0</text>
<text x="399.20" y="180.37" font-size="2.4" fill="#555" text-anchor="end" font-weight="normal" text-rendering="geometricPrecision">0.0</text>
<text x="403.10" y="186.40" font-size="2.3" fill="#555" text-anchor="middle" font-weight="normal" text-rendering="geometricPrecision">0</text>
<text x="416.90" y="186.40" font-size="2.3" fill="#555" text-anchor="middle" font-weight="normal" text-rendering="geometricPrecision">5000</text>
<text x="430.70" y="186.40" font-size="2.3" fill="#555" text-anchor="middle" font-weight="normal" text-rendering="geometricPrecision">10000</text>
<text x="444.50" y="186.40" font-size="2.3" fill="#555" text-anchor="middle" font-weight="normal" text-rendering="geometricPrecision">15000</text>
<rect x="400.60" y="145.90" width="48.2" height="37.2" fill="#fff" stroke="#3a3a3a" stroke-width="0.8"/>
<path d="M431.3 147.9v4.8M418.1 147.9v4.8M430.0 147.9v4.8" stroke="#000" stroke-opacity="0.38" stroke-width="0.5"/>
<path d="M403.1 147.9v4.8M412.1 147.9v4.8M423.3 147.9v4.8" stroke="#000" stroke-opacity="0.38" stroke-width="0.5"/>
<path d="M402.2 147.9v4.8M428.2 147.9v4.8M408.1 147.9v4.8" stroke="#000" stroke-opacity="0.38" stroke-width="0.5"/>
<path d="M418.0 147.9v4.8M428.4 147.9v4.8M444.0 147.9v4.8" stroke="#000" stroke-opacity="0.38" stroke-width="0.5"/>
<path d="M406.9 147.9v4.8M411.2 147.9v4.8" stroke="#000" stroke-opacity="0.38" stroke-width="0.5"/>
<line x1="400.60" y1="150.50" x2="448.80" y2="150.50" stroke="#111" stroke-width="0.8"/>
<line x1="401.00" y1="147.50" x2="448.40" y2="147.50" stroke="#d4456a" stroke-width="1.1" stroke-dasharray="2.7 2.7" stroke-dashoffset="-0.5"/>
<line x1="401.00" y1="181.50" x2="448.40" y2="181.50" stroke="#d4456a" stroke-width="1.1" stroke-dasharray="2.7 2.7" stroke-dashoffset="-0.5"/>
<path d="M403.60 151.60 C403.68 150.93 403.68 147.85 404.10 147.60 C404.52 147.35 405.25 149.17 406.10 150.10 C406.95 151.03 408.18 152.35 409.20 153.20 C410.22 154.05 410.85 154.02 412.20 155.20 C413.55 156.38 415.43 158.43 417.30 160.30 C419.17 162.17 421.37 164.37 423.40 166.40 C425.43 168.43 427.47 170.63 429.50 172.50 C431.53 174.37 433.90 176.38 435.60 177.60 C437.30 178.82 438.60 179.27 439.70 179.80 C440.80 180.33 441.43 180.83 442.20 180.80 C442.97 180.77 443.73 180.05 444.30 179.60 C444.87 179.15 445.32 180.65 445.60 178.10 C445.88 175.55 445.93 168.97 446.00 164.30 C446.07 159.63 446.00 152.47 446.00 150.10" fill="none" stroke="#5da42f" stroke-width="2.85" stroke-linejoin="round" stroke-linecap="round"/>
<text x="401.90" y="177.30" font-size="4.45" fill="#000" text-anchor="start" font-weight="normal" stroke="#000" stroke-width="0.03">NES: -1.687</text>
<text x="463.70" y="151.60" font-size="2.4" fill="#555" text-anchor="end" font-weight="normal" text-rendering="geometricPrecision">0.0</text>
<text x="463.70" y="161.23" font-size="2.4" fill="#555" text-anchor="end" font-weight="normal" text-rendering="geometricPrecision">0.0</text>
<text x="463.70" y="170.85" font-size="2.4" fill="#555" text-anchor="end" font-weight="normal" text-rendering="geometricPrecision">0.0</text>
<text x="463.70" y="180.47" font-size="2.4" fill="#555" text-anchor="end" font-weight="normal" text-rendering="geometricPrecision">0.0</text>
<text x="467.60" y="186.40" font-size="2.3" fill="#555" text-anchor="middle" font-weight="normal" text-rendering="geometricPrecision">0</text>
<text x="481.40" y="186.40" font-size="2.3" fill="#555" text-anchor="middle" font-weight="normal" text-rendering="geometricPrecision">5000</text>
<text x="495.20" y="186.40" font-size="2.3" fill="#555" text-anchor="middle" font-weight="normal" text-rendering="geometricPrecision">10000</text>
<text x="509.00" y="186.40" font-size="2.3" fill="#555" text-anchor="middle" font-weight="normal" text-rendering="geometricPrecision">15000</text>
<rect x="465.10" y="145.90" width="48.2" height="37.2" fill="#fff" stroke="#3a3a3a" stroke-width="0.8"/>
<path d="M477.5 146.9v4.8M501.6 146.9v4.8M491.7 146.9v4.8" stroke="#000" stroke-opacity="0.38" stroke-width="0.5"/>
<path d="M473.3 146.9v4.8M484.6 146.9v4.8M482.3 146.9v4.8" stroke="#000" stroke-opacity="0.38" stroke-width="0.5"/>
<path d="M470.9 146.9v4.8M478.4 146.9v4.8M495.5 146.9v4.8" stroke="#000" stroke-opacity="0.38" stroke-width="0.5"/>
<path d="M495.1 146.9v4.8M467.1 146.9v4.8M486.4 146.9v4.8" stroke="#000" stroke-opacity="0.38" stroke-width="0.5"/>
<path d="M505.5 146.9v4.8M495.4 146.9v4.8" stroke="#000" stroke-opacity="0.38" stroke-width="0.5"/>
<line x1="465.10" y1="149.50" x2="513.30" y2="149.50" stroke="#111" stroke-width="0.8"/>
<line x1="465.50" y1="149.50" x2="512.90" y2="149.50" stroke="#d4456a" stroke-width="1.1" stroke-dasharray="2.7 2.7" stroke-dashoffset="-0.5"/>
<line x1="465.50" y1="181.50" x2="512.90" y2="181.50" stroke="#d4456a" stroke-width="1.1" stroke-dasharray="2.7 2.7" stroke-dashoffset="-0.5"/>
<path d="M467.30 149.30 L470.10 151.60 L472.20 152.60 L474.20 153.70 L479.30 158.20 L485.40 163.80 L491.50 169.40 L497.60 175.00 L502.70 179.10 L505.70 180.80 L507.80 179.10 L508.30 174.50 L509.30 173.50 L509.80 164.30 L510.30 154.20 L510.50 148.30" fill="none" stroke="#5da42f" stroke-width="2.85" stroke-linejoin="round" stroke-linecap="round"/>
<text x="466.40" y="177.30" font-size="4.45" fill="#000" text-anchor="start" font-weight="normal" stroke="#000" stroke-width="0.03">NES: -1.648</text>
<text x="141.20" y="205.40" font-size="2.4" fill="#555" text-anchor="end" font-weight="normal" text-rendering="geometricPrecision">0.0</text>
<text x="141.20" y="215.49" font-size="2.4" fill="#555" text-anchor="end" font-weight="normal" text-rendering="geometricPrecision">0.0</text>
<text x="141.20" y="225.59" font-size="2.4" fill="#555" text-anchor="end" font-weight="normal" text-rendering="geometricPrecision">0.0</text>
<text x="141.20" y="235.68" font-size="2.4" fill="#555" text-anchor="end" font-weight="normal" text-rendering="geometricPrecision">0.0</text>
<text x="145.10" y="241.80" font-size="2.3" fill="#555" text-anchor="middle" font-weight="normal" text-rendering="geometricPrecision">0</text>
<text x="158.90" y="241.80" font-size="2.3" fill="#555" text-anchor="middle" font-weight="normal" text-rendering="geometricPrecision">5000</text>
<text x="172.70" y="241.80" font-size="2.3" fill="#555" text-anchor="middle" font-weight="normal" text-rendering="geometricPrecision">10000</text>
<text x="186.50" y="241.80" font-size="2.3" fill="#555" text-anchor="middle" font-weight="normal" text-rendering="geometricPrecision">15000</text>
<rect x="142.60" y="201.30" width="48.2" height="37.2" fill="#fff" stroke="#3a3a3a" stroke-width="0.8"/>
<path d="M181.5 203.5v4.8M185.9 203.5v4.8M188.8 203.5v4.8M185.2 203.5v4.8M187.6 203.5v4.8M184.1 203.5v4.8M183.8 203.5v4.8M188.8 203.5v4.8M146.2 203.5v4.8M145.5 203.5v4.8M183.4 203.5v4.8M186.3 203.5v4.8M154.8 203.5v4.8M187.9 203.5v4.8" stroke="#000" stroke-opacity="0.38" stroke-width="0.5"/>
<path d="M183.9 203.5v4.8M186.9 203.5v4.8M185.7 203.5v4.8M186.1 203.5v4.8M187.6 203.5v4.8M188.8 203.5v4.8M186.5 203.5v4.8M187.4 203.5v4.8M144.6 203.5v4.8M144.6 203.5v4.8M144.8 203.5v4.8M177.5 203.5v4.8M184.7 203.5v4.8M165.1 203.5v4.8" stroke="#000" stroke-opacity="0.38" stroke-width="0.5"/>
<path d="M187.9 203.5v4.8M188.0 203.5v4.8M181.5 203.5v4.8M184.8 203.5v4.8M188.7 203.5v4.8M182.7 203.5v4.8M188.1 203.5v4.8M183.7 203.5v4.8M145.6 203.5v4.8M145.9 203.5v4.8M155.7 203.5v4.8M158.7 203.5v4.8M172.3 203.5v4.8M181.6 203.5v4.8" stroke="#000" stroke-opacity="0.38" stroke-width="0.5"/>
<path d="M182.0 203.5v4.8M188.7 203.5v4.8M188.4 203.5v4.8M183.0 203.5v4.8M182.1 203.5v4.8M183.8 203.5v4.8M188.6 203.5v4.8M184.3 203.5v4.8M145.1 203.5v4.8M187.2 203.5v4.8M154.7 203.5v4.8M183.4 203.5v4.8M175.1 203.5v4.8M175.3 203.5v4.8" stroke="#000" stroke-opacity="0.38" stroke-width="0.5"/>
<path d="M188.7 203.5v4.8M183.4 203.5v4.8M188.2 203.5v4.8M188.3 203.5v4.8M183.4 203.5v4.8M186.4 203.5v4.8M188.0 203.5v4.8M182.7 203.5v4.8M146.6 203.5v4.8M153.8 203.5v4.8M177.4 203.5v4.8M158.8 203.5v4.8M173.8 203.5v4.8M182.4 203.5v4.8" stroke="#000" stroke-opacity="0.38" stroke-width="0.5"/>
<line x1="142.60" y1="205.50" x2="190.80" y2="205.50" stroke="#111" stroke-width="0.8"/>
<line x1="143.00" y1="203.50" x2="190.40" y2="203.50" stroke="#d4456a" stroke-width="1.1" stroke-dasharray="2.7 2.7" stroke-dashoffset="-0.5"/>
<line x1="143.00" y1="236.50" x2="190.40" y2="236.50" stroke="#d4456a" stroke-width="1.1" stroke-dasharray="2.7 2.7" stroke-dashoffset="-0.5"/>
<path d="M144.60 205.60 C144.68 205.18 144.82 203.60 145.10 203.10 C145.38 202.60 145.62 202.27 146.30 202.60 C146.98 202.93 147.88 203.75 149.20 205.10 C150.52 206.45 152.35 208.67 154.20 210.70 C156.05 212.73 158.27 215.10 160.30 217.30 C162.33 219.50 164.35 221.78 166.40 223.90 C168.45 226.02 170.55 228.22 172.60 230.00 C174.65 231.78 177.02 233.53 178.70 234.60 C180.38 235.67 181.60 236.40 182.70 236.40 C183.80 236.40 184.65 235.92 185.30 234.60 C185.95 233.28 186.27 231.22 186.60 228.50 C186.93 225.78 187.10 222.03 187.30 218.30 C187.50 214.57 187.72 208.13 187.80 206.10" fill="none" stroke="#5da42f" stroke-width="2.85" stroke-linejoin="round" stroke-linecap="round"/>
<text x="143.90" y="232.70" font-size="4.45" fill="#000" text-anchor="start" font-weight="normal" stroke="#000" stroke-width="0.03">NES: -1.972</text>
<text x="205.70" y="205.60" font-size="2.4" fill="#555" text-anchor="end" font-weight="normal" text-rendering="geometricPrecision">0.0</text>
<text x="205.70" y="215.54" font-size="2.4" fill="#555" text-anchor="end" font-weight="normal" text-rendering="geometricPrecision">0.0</text>
<text x="205.70" y="225.48" font-size="2.4" fill="#555" text-anchor="end" font-weight="normal" text-rendering="geometricPrecision">0.0</text>
<text x="205.70" y="235.41" font-size="2.4" fill="#555" text-anchor="end" font-weight="normal" text-rendering="geometricPrecision">0.0</text>
<text x="209.60" y="241.80" font-size="2.3" fill="#555" text-anchor="middle" font-weight="normal" text-rendering="geometricPrecision">0</text>
<text x="223.40" y="241.80" font-size="2.3" fill="#555" text-anchor="middle" font-weight="normal" text-rendering="geometricPrecision">5000</text>
<text x="237.20" y="241.80" font-size="2.3" fill="#555" text-anchor="middle" font-weight="normal" text-rendering="geometricPrecision">10000</text>
<text x="251.00" y="241.80" font-size="2.3" fill="#555" text-anchor="middle" font-weight="normal" text-rendering="geometricPrecision">15000</text>
<rect x="207.10" y="201.30" width="48.2" height="37.2" fill="#fff" stroke="#3a3a3a" stroke-width="0.8"/>
<path d="M210.7 231.7v4.8M212.4 231.7v4.8M208.8 231.7v4.8M208.6 231.7v4.8M208.7 231.7v4.8M215.3 231.7v4.8M208.8 231.7v4.8M214.4 231.7v4.8M253.2 231.7v4.8M252.1 231.7v4.8M225.1 231.7v4.8M236.2 231.7v4.8M224.1 231.7v4.8M212.7 231.7v4.8" stroke="#000" stroke-opacity="0.38" stroke-width="0.5"/>
<path d="M213.4 231.7v4.8M208.7 231.7v4.8M215.8 231.7v4.8M213.1 231.7v4.8M212.1 231.7v4.8M208.7 231.7v4.8M209.2 231.7v4.8M212.5 231.7v4.8M253.2 231.7v4.8M253.3 231.7v4.8M222.9 231.7v4.8M210.0 231.7v4.8M240.1 231.7v4.8M245.2 231.7v4.8" stroke="#000" stroke-opacity="0.38" stroke-width="0.5"/>
<path d="M211.9 231.7v4.8M215.5 231.7v4.8M210.1 231.7v4.8M212.5 231.7v4.8M210.2 231.7v4.8M215.0 231.7v4.8M208.8 231.7v4.8M214.5 231.7v4.8M250.4 231.7v4.8M252.7 231.7v4.8M251.7 231.7v4.8M227.1 231.7v4.8M232.6 231.7v4.8M216.2 231.7v4.8" stroke="#000" stroke-opacity="0.38" stroke-width="0.5"/>
<path d="M209.8 231.7v4.8M209.0 231.7v4.8M209.0 231.7v4.8M213.1 231.7v4.8M214.4 231.7v4.8M215.6 231.7v4.8M208.6 231.7v4.8M212.5 231.7v4.8M252.9 231.7v4.8M221.2 231.7v4.8M231.1 231.7v4.8M228.1 231.7v4.8M218.3 231.7v4.8M208.7 231.7v4.8" stroke="#000" stroke-opacity="0.38" stroke-width="0.5"/>
<path d="M209.3 231.7v4.8M208.6 231.7v4.8M208.6 231.7v4.8M213.5 231.7v4.8M214.5 231.7v4.8M215.9 231.7v4.8M214.8 231.7v4.8M209.7 231.7v4.8M252.5 231.7v4.8M240.6 231.7v4.8M246.7 231.7v4.8M243.2 231.7v4.8M247.1 231.7v4.8M217.6 231.7v4.8" stroke="#000" stroke-opacity="0.38" stroke-width="0.5"/>
<line x1="207.10" y1="234.50" x2="255.30" y2="234.50" stroke="#111" stroke-width="0.8"/>
<line x1="207.50" y1="203.50" x2="254.90" y2="203.50" stroke="#d4456a" stroke-width="1.1" stroke-dasharray="2.7 2.7" stroke-dashoffset="-0.5"/>
<line x1="207.50" y1="236.50" x2="254.90" y2="236.50" stroke="#d4456a" stroke-width="1.1" stroke-dasharray="2.7 2.7" stroke-dashoffset="-0.5"/>
<path d="M209.30 234.10 C209.35 232.48 209.47 227.70 209.60 224.40 C209.73 221.10 209.88 217.10 210.10 214.30 C210.32 211.50 210.53 209.33 210.90 207.60 C211.27 205.87 211.67 204.65 212.30 203.90 C212.93 203.15 213.72 202.98 214.70 203.10 C215.68 203.22 216.77 203.50 218.20 204.60 C219.63 205.70 221.43 207.75 223.30 209.70 C225.17 211.65 227.37 214.10 229.40 216.30 C231.43 218.50 233.47 220.78 235.50 222.90 C237.53 225.02 239.73 227.22 241.60 229.00 C243.47 230.78 245.33 232.50 246.70 233.60 C248.07 234.70 248.95 235.35 249.80 235.60 C250.65 235.85 251.33 235.43 251.80 235.10 C252.27 234.77 252.47 233.85 252.60 233.60" fill="none" stroke="#5da42f" stroke-width="2.85" stroke-linejoin="round" stroke-linecap="round"/>
<text x="208.40" y="232.70" font-size="4.45" fill="#000" text-anchor="start" font-weight="normal" stroke="#000" stroke-width="0.03">NES: 2.418</text>
<text x="270.20" y="205.20" font-size="2.4" fill="#555" text-anchor="end" font-weight="normal" text-rendering="geometricPrecision">0.0</text>
<text x="270.20" y="215.26" font-size="2.4" fill="#555" text-anchor="end" font-weight="normal" text-rendering="geometricPrecision">0.0</text>
<text x="270.20" y="225.33" font-size="2.4" fill="#555" text-anchor="end" font-weight="normal" text-rendering="geometricPrecision">0.0</text>
<text x="270.20" y="235.39" font-size="2.4" fill="#555" text-anchor="end" font-weight="normal" text-rendering="geometricPrecision">0.0</text>
<text x="274.10" y="241.80" font-size="2.3" fill="#555" text-anchor="middle" font-weight="normal" text-rendering="geometricPrecision">0</text>
<text x="287.90" y="241.80" font-size="2.3" fill="#555" text-anchor="middle" font-weight="normal" text-rendering="geometricPrecision">5000</text>
<text x="301.70" y="241.80" font-size="2.3" fill="#555" text-anchor="middle" font-weight="normal" text-rendering="geometricPrecision">10000</text>
<text x="315.50" y="241.80" font-size="2.3" fill="#555" text-anchor="middle" font-weight="normal" text-rendering="geometricPrecision">15000</text>
<rect x="271.60" y="201.30" width="48.2" height="37.2" fill="#fff" stroke="#3a3a3a" stroke-width="0.8"/>
<path d="M277.9 210.8v4.8M278.2 210.8v4.8M274.1 210.8v4.8M275.6 210.8v4.8M277.3 210.8v4.8M315.6 210.8v4.8M317.0 210.8v4.8M310.4 210.8v4.8M312.0 210.8v4.8M310.9 210.8v4.8M311.7 210.8v4.8M283.7 210.8v4.8M280.0 210.8v4.8M280.3 210.8v4.8M277.7 210.8v4.8" stroke="#000" stroke-opacity="0.38" stroke-width="0.5"/>
<path d="M280.0 210.8v4.8M273.7 210.8v4.8M279.7 210.8v4.8M273.4 210.8v4.8M278.1 210.8v4.8M310.3 210.8v4.8M316.6 210.8v4.8M316.8 210.8v4.8M313.2 210.8v4.8M313.0 210.8v4.8M313.9 210.8v4.8M281.7 210.8v4.8M280.1 210.8v4.8M287.8 210.8v4.8M316.1 210.8v4.8" stroke="#000" stroke-opacity="0.38" stroke-width="0.5"/>
<path d="M273.1 210.8v4.8M275.6 210.8v4.8M274.2 210.8v4.8M276.7 210.8v4.8M313.4 210.8v4.8M317.6 210.8v4.8M310.2 210.8v4.8M315.0 210.8v4.8M316.0 210.8v4.8M312.1 210.8v4.8M278.7 210.8v4.8M286.6 210.8v4.8M284.2 210.8v4.8M281.6 210.8v4.8M277.6 210.8v4.8" stroke="#000" stroke-opacity="0.38" stroke-width="0.5"/>
<path d="M275.6 210.8v4.8M274.6 210.8v4.8M273.8 210.8v4.8M273.3 210.8v4.8M315.9 210.8v4.8M310.3 210.8v4.8M314.6 210.8v4.8M314.3 210.8v4.8M316.1 210.8v4.8M317.2 210.8v4.8M293.8 210.8v4.8M304.5 210.8v4.8M287.7 210.8v4.8M316.7 210.8v4.8M290.3 210.8v4.8" stroke="#000" stroke-opacity="0.38" stroke-width="0.5"/>
<path d="M275.6 210.8v4.8M278.5 210.8v4.8M277.3 210.8v4.8M278.1 210.8v4.8M315.5 210.8v4.8M317.8 210.8v4.8M315.7 210.8v4.8M311.9 210.8v4.8M317.3 210.8v4.8M315.2 210.8v4.8M312.7 210.8v4.8M310.8 210.8v4.8M296.4 210.8v4.8M305.7 210.8v4.8" stroke="#000" stroke-opacity="0.38" stroke-width="0.5"/>
<line x1="271.60" y1="213.50" x2="319.80" y2="213.50" stroke="#111" stroke-width="0.8"/>
<line x1="272.00" y1="202.50" x2="319.40" y2="202.50" stroke="#d4456a" stroke-width="1.1" stroke-dasharray="2.7 2.7" stroke-dashoffset="-0.5"/>
<line x1="272.00" y1="236.50" x2="319.40" y2="236.50" stroke="#d4456a" stroke-width="1.1" stroke-dasharray="2.7 2.7" stroke-dashoffset="-0.5"/>
<path d="M274.30 213.20 C274.30 212.37 274.17 209.72 274.30 208.20 C274.43 206.68 274.72 205.03 275.10 204.10 C275.48 203.17 275.83 202.52 276.60 202.60 C277.37 202.68 278.43 203.25 279.70 204.60 C280.97 205.95 282.43 208.42 284.20 210.70 C285.97 212.98 288.27 215.85 290.30 218.30 C292.33 220.75 294.35 223.28 296.40 225.40 C298.45 227.52 300.73 229.47 302.60 231.00 C304.47 232.53 306.08 233.75 307.60 234.60 C309.12 235.45 310.50 236.18 311.70 236.10 C312.90 236.02 314.03 235.20 314.80 234.10 C315.57 233.00 315.93 231.62 316.30 229.50 C316.67 227.38 316.83 224.12 317.00 221.40 C317.17 218.68 317.25 214.57 317.30 213.20" fill="none" stroke="#5da42f" stroke-width="2.85" stroke-linejoin="round" stroke-linecap="round"/>
<text x="272.90" y="232.70" font-size="4.45" fill="#000" text-anchor="start" font-weight="normal" stroke="#000" stroke-width="0.03">NES: -1.386</text>
<text x="334.90" y="206.90" font-size="2.4" fill="#555" text-anchor="end" font-weight="normal" text-rendering="geometricPrecision">0.0</text>
<text x="334.90" y="216.53" font-size="2.4" fill="#555" text-anchor="end" font-weight="normal" text-rendering="geometricPrecision">0.0</text>
<text x="334.90" y="226.15" font-size="2.4" fill="#555" text-anchor="end" font-weight="normal" text-rendering="geometricPrecision">0.0</text>
<text x="334.90" y="235.78" font-size="2.4" fill="#555" text-anchor="end" font-weight="normal" text-rendering="geometricPrecision">0.0</text>
<text x="338.80" y="241.80" font-size="2.3" fill="#555" text-anchor="middle" font-weight="normal" text-rendering="geometricPrecision">0</text>
<text x="352.60" y="241.80" font-size="2.3" fill="#555" text-anchor="middle" font-weight="normal" text-rendering="geometricPrecision">5000</text>
<text x="366.40" y="241.80" font-size="2.3" fill="#555" text-anchor="middle" font-weight="normal" text-rendering="geometricPrecision">10000</text>
<text x="380.20" y="241.80" font-size="2.3" fill="#555" text-anchor="middle" font-weight="normal" text-rendering="geometricPrecision">15000</text>
<rect x="336.30" y="201.30" width="48.2" height="37.2" fill="#fff" stroke="#3a3a3a" stroke-width="0.8"/>
<path d="M381.8 202.2v4.8M366.3 202.2v4.8M355.6 202.2v4.8" stroke="#000" stroke-opacity="0.38" stroke-width="0.5"/>
<path d="M373.3 202.2v4.8M342.6 202.2v4.8M373.2 202.2v4.8" stroke="#000" stroke-opacity="0.38" stroke-width="0.5"/>
<path d="M370.6 202.2v4.8M347.0 202.2v4.8M368.8 202.2v4.8" stroke="#000" stroke-opacity="0.38" stroke-width="0.5"/>
<path d="M357.2 202.2v4.8M355.2 202.2v4.8M360.2 202.2v4.8" stroke="#000" stroke-opacity="0.38" stroke-width="0.5"/>
<path d="M346.6 202.2v4.8M339.3 202.2v4.8" stroke="#000" stroke-opacity="0.38" stroke-width="0.5"/>
<line x1="336.30" y1="204.50" x2="384.50" y2="204.50" stroke="#111" stroke-width="0.8"/>
<line x1="336.70" y1="204.50" x2="384.10" y2="204.50" stroke="#d4456a" stroke-width="1.1" stroke-dasharray="2.7 2.7" stroke-dashoffset="-0.5"/>
<line x1="336.70" y1="236.50" x2="384.10" y2="236.50" stroke="#d4456a" stroke-width="1.1" stroke-dasharray="2.7 2.7" stroke-dashoffset="-0.5"/>
<path d="M338.30 204.60 C338.68 204.88 339.78 205.85 340.60 206.30 C341.42 206.75 342.43 206.90 343.20 207.30 C343.97 207.70 344.02 207.62 345.20 208.70 C346.38 209.78 348.43 211.93 350.30 213.80 C352.17 215.67 354.37 217.87 356.40 219.90 C358.43 221.93 360.47 224.05 362.50 226.00 C364.53 227.95 366.90 230.08 368.60 231.60 C370.30 233.12 371.68 234.35 372.70 235.10 C373.72 235.85 373.95 236.27 374.70 236.10 C375.45 235.93 376.52 235.20 377.20 234.10 C377.88 233.00 378.28 231.97 378.80 229.50 C379.32 227.03 379.93 222.68 380.30 219.30 C380.67 215.92 380.83 211.65 381.00 209.20 C381.17 206.75 381.25 205.37 381.30 204.60" fill="none" stroke="#5da42f" stroke-width="2.85" stroke-linejoin="round" stroke-linecap="round"/>
<text x="337.60" y="232.70" font-size="4.45" fill="#000" text-anchor="start" font-weight="normal" stroke="#000" stroke-width="0.03">NES: -1.803</text>
<text x="399.20" y="205.60" font-size="2.4" fill="#555" text-anchor="end" font-weight="normal" text-rendering="geometricPrecision">0.0</text>
<text x="399.20" y="215.60" font-size="2.4" fill="#555" text-anchor="end" font-weight="normal" text-rendering="geometricPrecision">0.0</text>
<text x="399.20" y="225.60" font-size="2.4" fill="#555" text-anchor="end" font-weight="normal" text-rendering="geometricPrecision">0.0</text>
<text x="399.20" y="235.60" font-size="2.4" fill="#555" text-anchor="end" font-weight="normal" text-rendering="geometricPrecision">0.0</text>
<text x="403.10" y="241.80" font-size="2.3" fill="#555" text-anchor="middle" font-weight="normal" text-rendering="geometricPrecision">0</text>
<text x="416.90" y="241.80" font-size="2.3" fill="#555" text-anchor="middle" font-weight="normal" text-rendering="geometricPrecision">5000</text>
<text x="430.70" y="241.80" font-size="2.3" fill="#555" text-anchor="middle" font-weight="normal" text-rendering="geometricPrecision">10000</text>
<text x="444.50" y="241.80" font-size="2.3" fill="#555" text-anchor="middle" font-weight="normal" text-rendering="geometricPrecision">15000</text>
<rect x="400.60" y="201.30" width="48.2" height="37.2" fill="#fff" stroke="#3a3a3a" stroke-width="0.8"/>
<path d="M403.6 232.2v4.8M404.0 232.2v4.8M420.9 232.2v4.8M433.4 232.2v4.8M416.1 232.2v4.8M434.0 232.2v4.8M429.9 232.2v4.8" stroke="#000" stroke-opacity="0.38" stroke-width="0.5"/>
<path d="M403.2 232.2v4.8M404.5 232.2v4.8M412.3 232.2v4.8M440.2 232.2v4.8M430.2 232.2v4.8M430.2 232.2v4.8M420.4 232.2v4.8" stroke="#000" stroke-opacity="0.38" stroke-width="0.5"/>
<path d="M402.4 232.2v4.8M403.1 232.2v4.8M434.4 232.2v4.8M432.5 232.2v4.8M406.5 232.2v4.8M413.3 232.2v4.8M432.3 232.2v4.8" stroke="#000" stroke-opacity="0.38" stroke-width="0.5"/>
<path d="M403.6 232.2v4.8M427.8 232.2v4.8M441.4 232.2v4.8M430.8 232.2v4.8M420.9 232.2v4.8M421.0 232.2v4.8" stroke="#000" stroke-opacity="0.38" stroke-width="0.5"/>
<path d="M403.0 232.2v4.8M435.6 232.2v4.8M436.7 232.2v4.8M422.4 232.2v4.8M437.1 232.2v4.8M422.4 232.2v4.8" stroke="#000" stroke-opacity="0.38" stroke-width="0.5"/>
<line x1="400.60" y1="234.50" x2="448.80" y2="234.50" stroke="#111" stroke-width="0.8"/>
<line x1="401.00" y1="203.50" x2="448.40" y2="203.50" stroke="#d4456a" stroke-width="1.1" stroke-dasharray="2.7 2.7" stroke-dashoffset="-0.5"/>
<path d="M403.30 234.60 C403.35 232.90 403.47 227.78 403.60 224.40 C403.73 221.02 403.88 217.00 404.10 214.30 C404.32 211.60 404.53 209.82 404.90 208.20 C405.27 206.58 405.75 205.42 406.30 204.60 C406.85 203.78 407.38 203.38 408.20 203.30 C409.02 203.22 410.02 203.38 411.20 204.10 C412.38 204.82 413.77 206.08 415.30 207.60 C416.83 209.12 418.53 211.15 420.40 213.20 C422.27 215.25 424.47 217.77 426.50 219.90 C428.53 222.03 430.73 224.32 432.60 226.00 C434.47 227.68 436.18 228.98 437.70 230.00 C439.22 231.02 440.52 231.42 441.70 232.10 C442.88 232.78 444.12 233.68 444.80 234.10 C445.48 234.52 445.63 234.52 445.80 234.60" fill="none" stroke="#5da42f" stroke-width="2.85" stroke-linejoin="round" stroke-linecap="round"/>
<text x="401.90" y="232.70" font-size="4.45" fill="#000" text-anchor="start" font-weight="normal" stroke="#000" stroke-width="0.03">NES: 2.192</text>
<text x="463.70" y="205.40" font-size="2.4" fill="#555" text-anchor="end" font-weight="normal" text-rendering="geometricPrecision">0.0</text>
<text x="463.70" y="215.49" font-size="2.4" fill="#555" text-anchor="end" font-weight="normal" text-rendering="geometricPrecision">0.0</text>
<text x="463.70" y="225.59" font-size="2.4" fill="#555" text-anchor="end" font-weight="normal" text-rendering="geometricPrecision">0.0</text>
<text x="463.70" y="235.68" font-size="2.4" fill="#555" text-anchor="end" font-weight="normal" text-rendering="geometricPrecision">0.0</text>
<text x="467.60" y="241.80" font-size="2.3" fill="#555" text-anchor="middle" font-weight="normal" text-rendering="geometricPrecision">0</text>
<text x="481.40" y="241.80" font-size="2.3" fill="#555" text-anchor="middle" font-weight="normal" text-rendering="geometricPrecision">5000</text>
<text x="495.20" y="241.80" font-size="2.3" fill="#555" text-anchor="middle" font-weight="normal" text-rendering="geometricPrecision">10000</text>
<text x="509.00" y="241.80" font-size="2.3" fill="#555" text-anchor="middle" font-weight="normal" text-rendering="geometricPrecision">15000</text>
<rect x="465.10" y="201.30" width="48.2" height="37.2" fill="#fff" stroke="#3a3a3a" stroke-width="0.8"/>
<path d="M508.2 206.8v4.8M488.5 206.8v4.8M501.5 206.8v4.8M490.8 206.8v4.8M489.9 206.8v4.8M484.1 206.8v4.8M469.1 206.8v4.8M485.4 206.8v4.8" stroke="#000" stroke-opacity="0.38" stroke-width="0.5"/>
<path d="M474.8 206.8v4.8M510.2 206.8v4.8M508.6 206.8v4.8M498.7 206.8v4.8M484.9 206.8v4.8M500.7 206.8v4.8M478.9 206.8v4.8M497.8 206.8v4.8" stroke="#000" stroke-opacity="0.38" stroke-width="0.5"/>
<path d="M495.9 206.8v4.8M468.3 206.8v4.8M489.8 206.8v4.8M489.5 206.8v4.8M509.0 206.8v4.8M472.1 206.8v4.8M484.5 206.8v4.8M482.3 206.8v4.8" stroke="#000" stroke-opacity="0.38" stroke-width="0.5"/>
<path d="M501.4 206.8v4.8M490.9 206.8v4.8M471.1 206.8v4.8M495.2 206.8v4.8M476.0 206.8v4.8M510.6 206.8v4.8M467.2 206.8v4.8M478.5 206.8v4.8" stroke="#000" stroke-opacity="0.38" stroke-width="0.5"/>
<path d="M484.0 206.8v4.8M473.8 206.8v4.8M492.3 206.8v4.8M503.7 206.8v4.8M497.2 206.8v4.8M482.5 206.8v4.8M485.3 206.8v4.8M476.6 206.8v4.8" stroke="#000" stroke-opacity="0.38" stroke-width="0.5"/>
<line x1="465.10" y1="209.50" x2="513.30" y2="209.50" stroke="#111" stroke-width="0.8"/>
<line x1="465.50" y1="203.50" x2="512.90" y2="203.50" stroke="#d4456a" stroke-width="1.1" stroke-dasharray="2.7 2.7" stroke-dashoffset="-0.5"/>
<line x1="465.50" y1="236.50" x2="512.90" y2="236.50" stroke="#d4456a" stroke-width="1.1" stroke-dasharray="2.7 2.7" stroke-dashoffset="-0.5"/>
<path d="M467.30 209.70 C467.35 209.02 467.38 206.67 467.60 205.60 C467.82 204.53 468.18 203.80 468.60 203.30 C469.02 202.80 469.33 202.38 470.10 202.60 C470.87 202.82 471.83 203.33 473.20 204.60 C474.57 205.87 476.43 208.08 478.30 210.20 C480.17 212.32 482.37 214.93 484.40 217.30 C486.43 219.67 488.47 222.20 490.50 224.40 C492.53 226.60 494.83 228.80 496.60 230.50 C498.37 232.20 499.92 233.75 501.10 234.60 C502.28 235.45 502.93 235.40 503.70 235.60 C504.47 235.80 505.02 236.05 505.70 235.80 C506.38 235.55 507.20 235.48 507.80 234.10 C508.40 232.72 508.93 230.30 509.30 227.50 C509.67 224.70 509.83 220.35 510.00 217.30 C510.17 214.25 510.25 210.55 510.30 209.20" fill="none" stroke="#5da42f" stroke-width="2.85" stroke-linejoin="round" stroke-linecap="round"/>
<text x="466.40" y="232.70" font-size="4.45" fill="#000" text-anchor="start" font-weight="normal" stroke="#000" stroke-width="0.03">NES: -1.295</text>
<text x="6.80" y="272.60" font-size="11.8" fill="#000" text-anchor="start" font-weight="bold" >C</text>
<text x="45.40" y="284.40" font-size="6.6" fill="#111" text-anchor="middle" font-weight="normal" stroke="#111" stroke-width="0.1">MV4-11 (3 h)</text>
<line x1="18.00" y1="286.6" x2="72.80" y2="286.6" stroke="#333" stroke-width="0.7"/>
<text x="27.80" y="292.40" font-size="5" fill="#222" text-anchor="middle" font-weight="normal" >-</text>
<text x="40.60" y="292.40" font-size="5" fill="#222" text-anchor="middle" font-weight="normal" >+</text>
<text x="53.40" y="292.40" font-size="5" fill="#222" text-anchor="middle" font-weight="normal" >-</text>
<text x="66.20" y="292.40" font-size="5" fill="#222" text-anchor="middle" font-weight="normal" >+</text>
<text x="27.80" y="297.90" font-size="5" fill="#222" text-anchor="middle" font-weight="normal" >-</text>
<text x="40.60" y="297.90" font-size="5" fill="#222" text-anchor="middle" font-weight="normal" >-</text>
<text x="53.40" y="297.90" font-size="5" fill="#222" text-anchor="middle" font-weight="normal" >+</text>
<text x="66.20" y="297.90" font-size="5" fill="#222" text-anchor="middle" font-weight="normal" >+</text>
<text x="74.60" y="292.90" font-size="4.8" fill="#222" text-anchor="start" font-weight="normal" >SLC</text>
<text x="74.60" y="298.40" font-size="4.8" fill="#222" text-anchor="start" font-weight="normal" >VEN</text>
<rect x="18.20" y="298.00" width="54.40" height="8.50" rx="1" fill="#d9d9d9" stroke="#2a2a2a" stroke-width="1.2"/>
<rect x="19.20" y="299.00" width="52.40" height="6.50" fill="none" stroke="#f2f2f2" stroke-opacity="0.55" stroke-width="0.6"/>
<path d="M21.59 302.30C22.09 299.10 33.51 299.10 34.01 302.30C33.51 305.50 22.09 305.50 21.59 302.30Z" fill="#000000" filter="url(#bl)"/>
<path d="M35.20 302.30C35.63 300.30 45.57 300.30 46.00 302.30C45.57 304.30 35.63 304.30 35.20 302.30Z" fill="#060606" filter="url(#bl)"/>
<path d="M47.03 302.30C47.54 298.97 59.26 298.97 59.77 302.30C59.26 305.63 47.54 305.63 47.03 302.30Z" fill="#000000" filter="url(#bl)"/>
<path d="M60.80 302.30C61.23 300.30 71.17 300.30 71.60 302.30C71.17 304.30 61.23 304.30 60.80 302.30Z" fill="#060606" filter="url(#bl)"/>
<text x="74.60" y="305.40" font-size="4.7" fill="#1a1a1a"><tspan>P-AXL(Y</tspan><tspan font-size="2.91" dy="-1.5">702</tspan><tspan dy="1.5"></tspan><tspan>)</tspan></text>
<text x="27.80" y="311.70" font-size="4.9" fill="#1a1a1a" text-anchor="middle" font-weight="normal" letter-spacing="0.2">1.0</text>
<text x="40.60" y="311.70" font-size="4.9" fill="#1a1a1a" text-anchor="middle" font-weight="normal" letter-spacing="0.2">0.5</text>
<text x="53.40" y="311.70" font-size="4.9" fill="#1a1a1a" text-anchor="middle" font-weight="normal" letter-spacing="0.2">1.0</text>
<text x="66.20" y="311.70" font-size="4.9" fill="#1a1a1a" text-anchor="middle" font-weight="normal" letter-spacing="0.2">0.5</text>
<rect x="18.20" y="313.00" width="54.40" height="9.00" rx="1" fill="#d2d2d2" stroke="#2a2a2a" stroke-width="1.2"/>
<rect x="19.20" y="314.00" width="52.40" height="7.00" fill="none" stroke="#f2f2f2" stroke-opacity="0.55" stroke-width="0.6"/>
<path d="M22.40 317.50C22.83 315.63 32.77 315.63 33.20 317.50C32.77 319.37 22.83 319.37 22.40 317.50Z" fill="#707070" filter="url(#bl)"/>
<path d="M35.20 317.50C35.63 315.63 45.57 315.63 46.00 317.50C45.57 319.37 35.63 319.37 35.20 317.50Z" fill="#686868" filter="url(#bl)"/>
<path d="M48.00 317.50C48.43 315.63 58.37 315.63 58.80 317.50C58.37 319.37 48.43 319.37 48.00 317.50Z" fill="#777777" filter="url(#bl)"/>
<path d="M61.07 317.50C61.48 315.63 70.92 315.63 71.33 317.50C70.92 319.37 61.48 319.37 61.07 317.50Z" fill="#8c8c8c" filter="url(#bl)"/>
<text x="74.60" y="319.80" font-size="4.7" fill="#1a1a1a"><tspan>AXL</tspan></text>
<rect x="18.20" y="325.40" width="54.40" height="9.20" rx="1" fill="#d9d9d9" stroke="#2a2a2a" stroke-width="1.2"/>
<rect x="19.20" y="326.40" width="52.40" height="7.20" fill="none" stroke="#f2f2f2" stroke-opacity="0.55" stroke-width="0.6"/>
<path d="M23.48 329.80C23.83 328.60 31.77 328.60 32.12 329.80C31.77 331.00 23.83 331.00 23.48 329.80Z" fill="#363636" filter="url(#bl)"/>
<path d="M36.28 329.80C36.63 328.87 44.57 328.87 44.92 329.80C44.57 330.73 36.63 330.73 36.28 329.80Z" fill="#979797" filter="url(#bl)"/>
<path d="M49.08 329.80C49.43 328.87 57.37 328.87 57.72 329.80C57.37 330.73 49.43 330.73 49.08 329.80Z" fill="#828282" filter="url(#bl)"/>
<text x="74.60" y="333.20" font-size="4.7" fill="#1a1a1a"><tspan>P-AKT(S</tspan><tspan font-size="2.91" dy="-1.5">473</tspan><tspan dy="1.5"></tspan><tspan>)</tspan></text>
<text x="27.80" y="339.90" font-size="4.9" fill="#1a1a1a" text-anchor="middle" font-weight="normal" letter-spacing="0.2">1.0</text>
<text x="40.60" y="339.90" font-size="4.9" fill="#1a1a1a" text-anchor="middle" font-weight="normal" letter-spacing="0.2">0.3</text>
<text x="53.40" y="339.90" font-size="4.9" fill="#1a1a1a" text-anchor="middle" font-weight="normal" letter-spacing="0.2">0.5</text>
<text x="66.20" y="339.90" font-size="4.9" fill="#1a1a1a" text-anchor="middle" font-weight="normal" letter-spacing="0.2">0</text>
<rect x="18.20" y="341.20" width="54.40" height="9.60" rx="1" fill="#d9d9d9" stroke="#2a2a2a" stroke-width="1.2"/>
<rect x="19.20" y="342.20" width="52.40" height="7.60" fill="none" stroke="#f2f2f2" stroke-opacity="0.55" stroke-width="0.6"/>
<path d="M21.05 346.00C21.59 343.73 34.01 343.73 34.55 346.00C34.01 348.27 21.59 348.27 21.05 346.00Z" fill="#000000" filter="url(#bl)"/>
<path d="M33.85 346.00C34.39 343.73 46.81 343.73 47.35 346.00C46.81 348.27 34.39 348.27 33.85 346.00Z" fill="#000000" filter="url(#bl)"/>
<path d="M46.92 346.00C47.44 343.87 59.36 343.87 59.88 346.00C59.36 348.13 47.44 348.13 46.92 346.00Z" fill="#000000" filter="url(#bl)"/>
<path d="M60.53 346.00C60.98 344.13 71.42 344.13 71.87 346.00C71.42 347.87 60.98 347.87 60.53 346.00Z" fill="#000000" filter="url(#bl)"/>
<text x="74.60" y="348.30" font-size="4.7" fill="#1a1a1a"><tspan>AKT</tspan></text>
<rect x="18.20" y="353.00" width="54.40" height="9.30" rx="1" fill="#d9d9d9" stroke="#2a2a2a" stroke-width="1.2"/>
<rect x="19.20" y="354.00" width="52.40" height="7.30" fill="none" stroke="#f2f2f2" stroke-opacity="0.55" stroke-width="0.6"/>
<path d="M22.94 357.30C23.33 356.23 32.27 356.23 32.66 357.30C32.27 358.37 23.33 358.37 22.94 357.30Z" fill="#828282" filter="url(#bl)"/>
<path d="M35.74 357.30C36.13 356.30 45.07 356.30 45.46 357.30C45.07 358.30 36.13 358.30 35.74 357.30Z" fill="#828282" filter="url(#bl)"/>
<path d="M48.54 357.30C48.93 356.30 57.87 356.30 58.26 357.30C57.87 358.30 48.93 358.30 48.54 357.30Z" fill="#828282" filter="url(#bl)"/>
<path d="M61.88 357.30C62.23 356.30 70.17 356.30 70.52 357.30C70.17 358.30 62.23 358.30 61.88 357.30Z" fill="#8c8c8c" filter="url(#bl)"/>
<text x="74.60" y="359.90" font-size="4.7" fill="#1a1a1a"><tspan>GRB2</tspan></text>
<text x="27.80" y="367.50" font-size="4.9" fill="#1a1a1a" text-anchor="middle" font-weight="normal" letter-spacing="0.2">1.0</text>
<text x="40.60" y="367.50" font-size="4.9" fill="#1a1a1a" text-anchor="middle" font-weight="normal" letter-spacing="0.2">0.7</text>
<text x="53.40" y="367.50" font-size="4.9" fill="#1a1a1a" text-anchor="middle" font-weight="normal" letter-spacing="0.2">0.9</text>
<text x="66.20" y="367.50" font-size="4.9" fill="#1a1a1a" text-anchor="middle" font-weight="normal" letter-spacing="0.2">0.7</text>
<rect x="18.20" y="369.70" width="54.40" height="8.80" rx="1" fill="#d9d9d9" stroke="#2a2a2a" stroke-width="1.2"/>
<rect x="19.20" y="370.70" width="52.40" height="6.80" fill="none" stroke="#f2f2f2" stroke-opacity="0.55" stroke-width="0.6"/>
<path d="M22.67 374.10C23.08 372.37 32.52 372.37 32.93 374.10C32.52 375.83 23.08 375.83 22.67 374.10Z" fill="#000000" filter="url(#bl)"/>
<path d="M36.28 374.10C36.63 372.77 44.57 372.77 44.92 374.10C44.57 375.43 36.63 375.43 36.28 374.10Z" fill="#151515" filter="url(#bl)"/>
<path d="M48.54 374.10C48.93 372.37 57.87 372.37 58.26 374.10C57.87 375.83 48.93 375.83 48.54 374.10Z" fill="#000000" filter="url(#bl)"/>
<path d="M62.15 374.10C62.47 372.90 69.93 372.90 70.25 374.10C69.93 375.30 62.47 375.30 62.15 374.10Z" fill="#414141" filter="url(#bl)"/>
<text x="74.60" y="376.30" font-size="4.7" fill="#1a1a1a"><tspan>K-RAS</tspan></text>
<text x="27.80" y="384.70" font-size="4.9" fill="#1a1a1a" text-anchor="middle" font-weight="normal" letter-spacing="0.2">1.0</text>
<text x="40.60" y="384.70" font-size="4.9" fill="#1a1a1a" text-anchor="middle" font-weight="normal" letter-spacing="0.2">0.5</text>
<text x="53.40" y="384.70" font-size="4.9" fill="#1a1a1a" text-anchor="middle" font-weight="normal" letter-spacing="0.2">1.0</text>
<text x="66.20" y="384.70" font-size="4.9" fill="#1a1a1a" text-anchor="middle" font-weight="normal" letter-spacing="0.2">0.5</text>
<text x="135.20" y="284.40" font-size="6.6" fill="#111" text-anchor="middle" font-weight="normal" stroke="#111" stroke-width="0.1">MV4-11 (3 h)</text>
<line x1="107.70" y1="286.6" x2="162.50" y2="286.6" stroke="#333" stroke-width="0.7"/>
<text x="117.70" y="292.30" font-size="5" fill="#222" text-anchor="middle" font-weight="normal" >-</text>
<text x="130.60" y="292.30" font-size="5" fill="#222" text-anchor="middle" font-weight="normal" >+</text>
<text x="143.80" y="292.30" font-size="5" fill="#222" text-anchor="middle" font-weight="normal" >-</text>
<text x="157.00" y="292.30" font-size="5" fill="#222" text-anchor="middle" font-weight="normal" >+</text>
<text x="117.70" y="297.60" font-size="5" fill="#222" text-anchor="middle" font-weight="normal" >-</text>
<text x="130.60" y="297.60" font-size="5" fill="#222" text-anchor="middle" font-weight="normal" >-</text>
<text x="143.80" y="297.60" font-size="5" fill="#222" text-anchor="middle" font-weight="normal" >+</text>
<text x="157.00" y="297.60" font-size="5" fill="#222" text-anchor="middle" font-weight="normal" >+</text>
<text x="165.40" y="292.80" font-size="4.8" fill="#222" text-anchor="start" font-weight="normal" >SLC</text>
<text x="165.40" y="298.10" font-size="4.8" fill="#222" text-anchor="start" font-weight="normal" >VEN</text>
<rect x="110.00" y="298.00" width="54.00" height="8.20" rx="1" fill="#d9d9d9" stroke="#2a2a2a" stroke-width="1.2"/>
<rect x="111.00" y="299.00" width="52.00" height="6.20" fill="none" stroke="#f2f2f2" stroke-opacity="0.55" stroke-width="0.6"/>
<path d="M112.57 302.10C112.98 300.97 122.42 300.97 122.83 302.10C122.42 303.23 112.98 303.23 112.57 302.10Z" fill="#3c3c3c" filter="url(#bl)"/>
<path d="M125.47 302.10C125.88 300.97 135.32 300.97 135.73 302.10C135.32 303.23 125.88 303.23 125.47 302.10Z" fill="#3c3c3c" filter="url(#bl)"/>
<path d="M138.67 302.10C139.08 300.97 148.52 300.97 148.93 302.10C148.52 303.23 139.08 303.23 138.67 302.10Z" fill="#3c3c3c" filter="url(#bl)"/>
<path d="M152.41 302.10C152.78 301.10 161.22 301.10 161.59 302.10C161.22 303.10 152.78 303.10 152.41 302.10Z" fill="#7d7d7d" filter="url(#bl)"/>
<text x="165.40" y="304.30" font-size="4.7" fill="#1a1a1a"><tspan>N-RAS</tspan></text>
<text x="117.70" y="311.90" font-size="4.9" fill="#1a1a1a" text-anchor="middle" font-weight="normal" letter-spacing="0.2">1.0</text>
<text x="130.60" y="311.90" font-size="4.9" fill="#1a1a1a" text-anchor="middle" font-weight="normal" letter-spacing="0.2">0.8</text>
<text x="143.80" y="311.90" font-size="4.9" fill="#1a1a1a" text-anchor="middle" font-weight="normal" letter-spacing="0.2">1.0</text>
<text x="157.00" y="311.90" font-size="4.9" fill="#1a1a1a" text-anchor="middle" font-weight="normal" letter-spacing="0.2">0.4</text>
<rect x="110.00" y="312.70" width="54.00" height="8.30" rx="1" fill="#d9d9d9" stroke="#2a2a2a" stroke-width="1.2"/>
<rect x="111.00" y="313.70" width="52.00" height="6.30" fill="none" stroke="#f2f2f2" stroke-opacity="0.55" stroke-width="0.6"/>
<path d="M112.57 316.85C112.98 315.78 122.42 315.78 122.83 316.85C122.42 317.92 112.98 317.92 112.57 316.85Z" fill="#565656" filter="url(#bl)"/>
<path d="M125.74 316.85C126.13 315.78 135.07 315.78 135.46 316.85C135.07 317.92 126.13 317.92 125.74 316.85Z" fill="#6c6c6c" filter="url(#bl)"/>
<path d="M138.67 316.85C139.08 315.78 148.52 315.78 148.93 316.85C148.52 317.92 139.08 317.92 138.67 316.85Z" fill="#4b4b4b" filter="url(#bl)"/>
<path d="M152.68 316.85C153.03 315.92 160.97 315.92 161.32 316.85C160.97 317.78 153.03 317.78 152.68 316.85Z" fill="#adadad" filter="url(#bl)"/>
<text x="165.40" y="320.10" font-size="4.7" fill="#1a1a1a"><tspan>P-RAF(S</tspan><tspan font-size="2.91" dy="-1.5">259</tspan><tspan dy="1.5"></tspan><tspan>)</tspan></text>
<text x="117.70" y="326.70" font-size="4.9" fill="#1a1a1a" text-anchor="middle" font-weight="normal" letter-spacing="0.2">1.0</text>
<text x="130.60" y="326.70" font-size="4.9" fill="#1a1a1a" text-anchor="middle" font-weight="normal" letter-spacing="0.2">0.9</text>
<text x="143.80" y="326.70" font-size="4.9" fill="#1a1a1a" text-anchor="middle" font-weight="normal" letter-spacing="0.2">1.0</text>
<text x="157.00" y="326.70" font-size="4.9" fill="#1a1a1a" text-anchor="middle" font-weight="normal" letter-spacing="0.2">0.5</text>
<rect x="110.60" y="328.70" width="53.20" height="9.00" rx="1" fill="#d9d9d9" stroke="#2a2a2a" stroke-width="1.2"/>
<rect x="111.60" y="329.70" width="51.20" height="7.00" fill="none" stroke="#f2f2f2" stroke-opacity="0.55" stroke-width="0.6"/>
<path d="M113.11 332.50C113.48 331.63 121.92 331.63 122.29 332.50C121.92 333.37 113.48 333.37 113.11 332.50Z" fill="#565656" filter="url(#bl)"/>
<path d="M126.01 332.50C126.38 331.63 134.82 331.63 135.19 332.50C134.82 333.37 126.38 333.37 126.01 332.50Z" fill="#6c6c6c" filter="url(#bl)"/>
<path d="M139.48 332.50C139.83 331.57 147.77 331.57 148.12 332.50C147.77 333.43 139.83 333.43 139.48 332.50Z" fill="#414141" filter="url(#bl)"/>
<path d="M153.22 332.50C153.52 331.70 160.48 331.70 160.78 332.50C160.48 333.30 153.52 333.30 153.22 332.50Z" fill="#c3c3c3" filter="url(#bl)"/>
<text x="165.40" y="335.30" font-size="4.7" fill="#1a1a1a"><tspan>RAF</tspan></text>
<text x="117.70" y="342.90" font-size="4.9" fill="#1a1a1a" text-anchor="middle" font-weight="normal" letter-spacing="0.2">1.0</text>
<text x="130.60" y="342.90" font-size="4.9" fill="#1a1a1a" text-anchor="middle" font-weight="normal" letter-spacing="0.2">0.5</text>
<text x="143.80" y="342.90" font-size="4.9" fill="#1a1a1a" text-anchor="middle" font-weight="normal" letter-spacing="0.2">1.0</text>
<text x="157.00" y="342.90" font-size="4.9" fill="#1a1a1a" text-anchor="middle" font-weight="normal" letter-spacing="0.2">0.1</text>
<rect x="110.30" y="344.50" width="53.50" height="9.20" rx="1" fill="#d9d9d9" stroke="#2a2a2a" stroke-width="1.2"/>
<rect x="111.30" y="345.50" width="51.50" height="7.20" fill="none" stroke="#f2f2f2" stroke-opacity="0.55" stroke-width="0.6"/>
<path d="M112.03 349.30C112.48 347.30 122.92 347.30 123.37 349.30C122.92 351.30 112.48 351.30 112.03 349.30Z" fill="#000000" filter="url(#bl)"/>
<path d="M125.20 349.30C125.63 347.43 135.57 347.43 136.00 349.30C135.57 351.17 125.63 351.17 125.20 349.30Z" fill="#000000" filter="url(#bl)"/>
<path d="M138.40 349.30C138.83 347.17 148.77 347.17 149.20 349.30C148.77 351.43 138.83 351.43 138.40 349.30Z" fill="#000000" filter="url(#bl)"/>
<path d="M152.68 349.30C153.03 348.10 160.97 348.10 161.32 349.30C160.97 350.50 153.03 350.50 152.68 349.30Z" fill="#616161" filter="url(#bl)"/>
<text x="165.40" y="351.50" font-size="4.7" fill="#1a1a1a"><tspan>P-MEK(S</tspan><tspan font-size="2.91" dy="-1.5">217/221</tspan><tspan dy="1.5"></tspan><tspan>)</tspan></text>
<text x="117.70" y="358.70" font-size="4.9" fill="#1a1a1a" text-anchor="middle" font-weight="normal" letter-spacing="0.2">1.0</text>
<text x="130.60" y="358.70" font-size="4.9" fill="#1a1a1a" text-anchor="middle" font-weight="normal" letter-spacing="0.2">0.9</text>
<text x="143.80" y="358.70" font-size="4.9" fill="#1a1a1a" text-anchor="middle" font-weight="normal" letter-spacing="0.2">1.0</text>
<text x="157.00" y="358.70" font-size="4.9" fill="#1a1a1a" text-anchor="middle" font-weight="normal" letter-spacing="0.2">0.3</text>
<rect x="110.30" y="360.50" width="53.50" height="9.10" rx="1" fill="#d9d9d9" stroke="#2a2a2a" stroke-width="1.2"/>
<rect x="111.30" y="361.50" width="51.50" height="7.10" fill="none" stroke="#f2f2f2" stroke-opacity="0.55" stroke-width="0.6"/>
<path d="M110.95 364.60C111.49 361.80 123.91 361.80 124.45 364.60C123.91 367.40 111.49 367.40 110.95 364.60Z" fill="#000000" filter="url(#bl)"/>
<path d="M123.85 364.60C124.39 361.80 136.81 361.80 137.35 364.60C136.81 367.40 124.39 367.40 123.85 364.60Z" fill="#000000" filter="url(#bl)"/>
<path d="M137.05 364.60C137.59 361.80 150.01 361.80 150.55 364.60C150.01 367.40 137.59 367.40 137.05 364.60Z" fill="#000000" filter="url(#bl)"/>
<path d="M150.52 364.60C151.04 362.07 162.96 362.07 163.48 364.60C162.96 367.13 151.04 367.13 150.52 364.60Z" fill="#000000" filter="url(#bl)"/>
<text x="165.40" y="367.30" font-size="4.7" fill="#1a1a1a"><tspan>MEK</tspan></text>
<rect x="110.30" y="370.00" width="53.50" height="8.80" rx="1" fill="#d9d9d9" stroke="#2a2a2a" stroke-width="1.2"/>
<rect x="111.30" y="371.00" width="51.50" height="6.80" fill="none" stroke="#f2f2f2" stroke-opacity="0.55" stroke-width="0.6"/>
<path d="M112.03 374.20C112.48 372.33 122.92 372.33 123.37 374.20C122.92 376.07 112.48 376.07 112.03 374.20Z" fill="#000000" filter="url(#bl)"/>
<path d="M125.74 374.20C126.13 372.87 135.07 372.87 135.46 374.20C135.07 375.53 126.13 375.53 125.74 374.20Z" fill="#0a0a0a" filter="url(#bl)"/>
<path d="M138.40 374.20C138.83 372.33 148.77 372.33 149.20 374.20C148.77 376.07 138.83 376.07 138.40 374.20Z" fill="#000000" filter="url(#bl)"/>
<path d="M152.95 374.20C153.27 373.00 160.73 373.00 161.05 374.20C160.73 375.40 153.27 375.40 152.95 374.20Z" fill="#414141" filter="url(#bl)"/>
<text x="165.40" y="377.40" font-size="4.7" fill="#1a1a1a"><tspan>P-ERK(T</tspan><tspan font-size="2.91" dy="-1.5">202</tspan><tspan dy="1.5"></tspan><tspan>/Y</tspan><tspan font-size="2.91" dy="-1.5">204</tspan><tspan dy="1.5"></tspan><tspan>)</tspan></text>
<text x="117.70" y="384.70" font-size="4.9" fill="#1a1a1a" text-anchor="middle" font-weight="normal" letter-spacing="0.2">1.0</text>
<text x="130.60" y="384.70" font-size="4.9" fill="#1a1a1a" text-anchor="middle" font-weight="normal" letter-spacing="0.2">0.6</text>
<text x="143.80" y="384.70" font-size="4.9" fill="#1a1a1a" text-anchor="middle" font-weight="normal" letter-spacing="0.2">0.9</text>
<text x="157.00" y="384.70" font-size="4.9" fill="#1a1a1a" text-anchor="middle" font-weight="normal" letter-spacing="0.2">0.1</text>
<text x="234.00" y="284.40" font-size="6.6" fill="#111" text-anchor="middle" font-weight="normal" stroke="#111" stroke-width="0.1">MV4-11 (3 h)</text>
<line x1="206.50" y1="286.6" x2="261.30" y2="286.6" stroke="#333" stroke-width="0.7"/>
<text x="216.50" y="292.30" font-size="5" fill="#222" text-anchor="middle" font-weight="normal" >-</text>
<text x="229.00" y="292.30" font-size="5" fill="#222" text-anchor="middle" font-weight="normal" >+</text>
<text x="241.40" y="292.30" font-size="5" fill="#222" text-anchor="middle" font-weight="normal" >-</text>
<text x="254.00" y="292.30" font-size="5" fill="#222" text-anchor="middle" font-weight="normal" >+</text>
<text x="216.50" y="297.50" font-size="5" fill="#222" text-anchor="middle" font-weight="normal" >-</text>
<text x="229.00" y="297.50" font-size="5" fill="#222" text-anchor="middle" font-weight="normal" >-</text>
<text x="241.40" y="297.50" font-size="5" fill="#222" text-anchor="middle" font-weight="normal" >+</text>
<text x="254.00" y="297.50" font-size="5" fill="#222" text-anchor="middle" font-weight="normal" >+</text>
<text x="264.20" y="292.80" font-size="4.8" fill="#222" text-anchor="start" font-weight="normal" >SLC</text>
<text x="264.20" y="298.00" font-size="4.8" fill="#222" text-anchor="start" font-weight="normal" >VEN</text>
<rect x="208.20" y="299.20" width="54.50" height="8.50" rx="1" fill="#f4f4f4" stroke="#2a2a2a" stroke-width="1.2"/>
<rect x="209.20" y="300.20" width="52.50" height="6.50" fill="none" stroke="#f2f2f2" stroke-opacity="0.55" stroke-width="0.6"/>
<path d="M210.83 303.45C211.28 301.98 221.72 301.98 222.17 303.45C221.72 304.92 211.28 304.92 210.83 303.45Z" fill="#000000" filter="url(#bl)"/>
<path d="M223.33 303.45C223.78 301.98 234.22 301.98 234.67 303.45C234.22 304.92 223.78 304.92 223.33 303.45Z" fill="#000000" filter="url(#bl)"/>
<path d="M235.73 303.45C236.18 301.98 246.62 301.98 247.07 303.45C246.62 304.92 236.18 304.92 235.73 303.45Z" fill="#000000" filter="url(#bl)"/>
<path d="M248.33 303.45C248.78 301.98 259.22 301.98 259.67 303.45C259.22 304.92 248.78 304.92 248.33 303.45Z" fill="#000000" filter="url(#bl)"/>
<text x="264.20" y="305.80" font-size="4.7" fill="#1a1a1a"><tspan>ERK</tspan></text>
<rect x="208.20" y="309.60" width="54.50" height="8.30" rx="1" fill="#d9d9d9" stroke="#2a2a2a" stroke-width="1.2"/>
<rect x="209.20" y="310.60" width="52.50" height="6.30" fill="none" stroke="#f2f2f2" stroke-opacity="0.55" stroke-width="0.6"/>
<path d="M211.91 313.75C212.28 312.68 220.72 312.68 221.09 313.75C220.72 314.82 212.28 314.82 211.91 313.75Z" fill="#363636" filter="url(#bl)"/>
<path d="M224.68 313.75C225.03 312.82 232.97 312.82 233.32 313.75C232.97 314.68 225.03 314.68 224.68 313.75Z" fill="#616161" filter="url(#bl)"/>
<path d="M236.81 313.75C237.18 312.68 245.62 312.68 245.99 313.75C245.62 314.82 237.18 314.82 236.81 313.75Z" fill="#414141" filter="url(#bl)"/>
<path d="M250.22 313.75C250.52 312.88 257.48 312.88 257.78 313.75C257.48 314.62 250.52 314.62 250.22 313.75Z" fill="#adadad" filter="url(#bl)"/>
<text x="264.20" y="316.10" font-size="4.7" fill="#1a1a1a"><tspan>P-SK3  (S</tspan><tspan font-size="2.91" dy="-1.5">9</tspan><tspan dy="1.5"></tspan><tspan>)</tspan></text>
<text x="216.50" y="323.70" font-size="4.9" fill="#1a1a1a" text-anchor="middle" font-weight="normal" letter-spacing="0.2">1.0</text>
<text x="229.00" y="323.70" font-size="4.9" fill="#1a1a1a" text-anchor="middle" font-weight="normal" letter-spacing="0.2">0.5</text>
<text x="241.40" y="323.70" font-size="4.9" fill="#1a1a1a" text-anchor="middle" font-weight="normal" letter-spacing="0.2">0.9</text>
<text x="254.00" y="323.70" font-size="4.9" fill="#1a1a1a" text-anchor="middle" font-weight="normal" letter-spacing="0.2">0.1</text>
<rect x="208.50" y="325.40" width="54.20" height="9.00" rx="1" fill="#d9d9d9" stroke="#2a2a2a" stroke-width="1.2"/>
<rect x="209.50" y="326.40" width="52.20" height="7.00" fill="none" stroke="#f2f2f2" stroke-opacity="0.55" stroke-width="0.6"/>
<path d="M210.56 329.90C211.04 327.50 221.96 327.50 222.44 329.90C221.96 332.30 211.04 332.30 210.56 329.90Z" fill="#000000" filter="url(#bl)"/>
<path d="M223.33 329.90C223.78 327.77 234.22 327.77 234.67 329.90C234.22 332.03 223.78 332.03 223.33 329.90Z" fill="#000000" filter="url(#bl)"/>
<path d="M235.46 329.90C235.94 327.50 246.86 327.50 247.34 329.90C246.86 332.30 235.94 332.30 235.46 329.90Z" fill="#000000" filter="url(#bl)"/>
<path d="M249.14 329.90C249.53 328.43 258.47 328.43 258.86 329.90C258.47 331.37 249.53 331.37 249.14 329.90Z" fill="#0a0a0a" filter="url(#bl)"/>
<text x="264.20" y="332.20" font-size="4.7" fill="#1a1a1a"><tspan>P-GSK3  (S</tspan><tspan font-size="2.91" dy="-1.5">9</tspan><tspan dy="1.5"></tspan><tspan>)</tspan></text>
<text x="216.50" y="340.40" font-size="4.9" fill="#1a1a1a" text-anchor="middle" font-weight="normal" letter-spacing="0.2">1.0</text>
<text x="229.00" y="340.40" font-size="4.9" fill="#1a1a1a" text-anchor="middle" font-weight="normal" letter-spacing="0.2">0.5</text>
<text x="241.40" y="340.40" font-size="4.9" fill="#1a1a1a" text-anchor="middle" font-weight="normal" letter-spacing="0.2">0.8</text>
<text x="254.00" y="340.40" font-size="4.9" fill="#1a1a1a" text-anchor="middle" font-weight="normal" letter-spacing="0.2">0.1</text>
<rect x="208.50" y="342.70" width="54.20" height="9.00" rx="1" fill="#d9d9d9" stroke="#2a2a2a" stroke-width="1.2"/>
<rect x="209.50" y="343.70" width="52.20" height="7.00" fill="none" stroke="#f2f2f2" stroke-opacity="0.55" stroke-width="0.6"/>
<path d="M211.10 347.20C211.53 345.73 221.47 345.73 221.90 347.20C221.47 348.67 211.53 348.67 211.10 347.20Z" fill="#151515" filter="url(#bl)"/>
<path d="M223.60 347.20C224.03 345.73 233.97 345.73 234.40 347.20C233.97 348.67 224.03 348.67 223.60 347.20Z" fill="#151515" filter="url(#bl)"/>
<path d="M236.00 347.20C236.43 345.73 246.37 345.73 246.80 347.20C246.37 348.67 236.43 348.67 236.00 347.20Z" fill="#151515" filter="url(#bl)"/>
<path d="M248.60 347.20C249.03 345.60 258.97 345.60 259.40 347.20C258.97 348.80 249.03 348.80 248.60 347.20Z" fill="#0a0a0a" filter="url(#bl)"/>
<text x="264.20" y="349.50" font-size="4.7" fill="#1a1a1a"><tspan>GSK3</tspan></text>
<rect x="208.50" y="353.00" width="54.20" height="9.00" rx="1" fill="#d9d9d9" stroke="#2a2a2a" stroke-width="1.2"/>
<rect x="209.50" y="354.00" width="52.20" height="7.00" fill="none" stroke="#f2f2f2" stroke-opacity="0.55" stroke-width="0.6"/>
<path d="M211.37 357.50C211.78 356.03 221.22 356.03 221.63 357.50C221.22 358.97 211.78 358.97 211.37 357.50Z" fill="#0a0a0a" filter="url(#bl)"/>
<path d="M224.68 357.50C225.03 356.43 232.97 356.43 233.32 357.50C232.97 358.57 225.03 358.57 224.68 357.50Z" fill="#616161" filter="url(#bl)"/>
<path d="M236.27 357.50C236.68 356.03 246.12 356.03 246.53 357.50C246.12 358.97 236.68 358.97 236.27 357.50Z" fill="#0a0a0a" filter="url(#bl)"/>
<text x="265.50" y="359.80" font-size="4.7" fill="#1a1a1a"><tspan>-catenin</tspan></text>
<text x="216.50" y="367.90" font-size="4.9" fill="#1a1a1a" text-anchor="middle" font-weight="normal" letter-spacing="0.2">1.0</text>
<text x="229.00" y="367.90" font-size="4.9" fill="#1a1a1a" text-anchor="middle" font-weight="normal" letter-spacing="0.2">0.6</text>
<text x="241.40" y="367.90" font-size="4.9" fill="#1a1a1a" text-anchor="middle" font-weight="normal" letter-spacing="0.2">1.0</text>
<text x="254.00" y="367.90" font-size="4.9" fill="#1a1a1a" text-anchor="middle" font-weight="normal" letter-spacing="0.2">0.1</text>
<rect x="208.50" y="370.40" width="54.20" height="8.80" rx="1" fill="#f0f0f0" stroke="#2a2a2a" stroke-width="1.2"/>
<rect x="209.50" y="371.40" width="52.20" height="6.80" fill="none" stroke="#f2f2f2" stroke-opacity="0.55" stroke-width="0.6"/>
<path d="M211.10 374.80C211.53 373.33 221.47 373.33 221.90 374.80C221.47 376.27 211.53 376.27 211.10 374.80Z" fill="#151515" filter="url(#bl)"/>
<path d="M223.60 374.80C224.03 373.33 233.97 373.33 234.40 374.80C233.97 376.27 224.03 376.27 223.60 374.80Z" fill="#151515" filter="url(#bl)"/>
<path d="M236.00 374.80C236.43 373.33 246.37 373.33 246.80 374.80C246.37 376.27 236.43 376.27 236.00 374.80Z" fill="#151515" filter="url(#bl)"/>
<path d="M248.60 374.80C249.03 373.33 258.97 373.33 259.40 374.80C258.97 376.27 249.03 376.27 248.60 374.80Z" fill="#151515" filter="url(#bl)"/>
<text x="264.20" y="377.10" font-size="4.7" fill="#1a1a1a"><tspan>ACTIN</tspan></text>
<text x="0" y="0" font-size="11.8" font-weight="bold" fill="#000" transform="translate(305.7 272.8) scale(1.12 1)">D</text>
<text x="343.80" y="284.40" font-size="6.6" fill="#111" text-anchor="middle" font-weight="normal" stroke="#111" stroke-width="0.1">MV4-11 (72 h)</text>
<line x1="316.60" y1="286.6" x2="371.50" y2="286.6" stroke="#333" stroke-width="0.7"/>
<text x="326.50" y="292.50" font-size="5" fill="#222" text-anchor="middle" font-weight="normal" >-</text>
<text x="339.70" y="292.50" font-size="5" fill="#222" text-anchor="middle" font-weight="normal" >+</text>
<text x="352.60" y="292.50" font-size="5" fill="#222" text-anchor="middle" font-weight="normal" >-</text>
<text x="365.80" y="292.50" font-size="5" fill="#222" text-anchor="middle" font-weight="normal" >+</text>
<text x="326.50" y="297.90" font-size="5" fill="#222" text-anchor="middle" font-weight="normal" >-</text>
<text x="339.70" y="297.90" font-size="5" fill="#222" text-anchor="middle" font-weight="normal" >-</text>
<text x="352.60" y="297.90" font-size="5" fill="#222" text-anchor="middle" font-weight="normal" >+</text>
<text x="365.80" y="297.90" font-size="5" fill="#222" text-anchor="middle" font-weight="normal" >+</text>
<text x="373.50" y="293.00" font-size="4.8" fill="#222" text-anchor="start" font-weight="normal" >SLC</text>
<text x="373.50" y="298.40" font-size="4.8" fill="#222" text-anchor="start" font-weight="normal" >VEN</text>
<rect x="318.20" y="299.20" width="56.00" height="8.30" rx="1" fill="#bcbcbc" stroke="#2a2a2a" stroke-width="1.2"/>
<rect x="319.20" y="300.20" width="54.00" height="6.30" fill="none" stroke="#f2f2f2" stroke-opacity="0.55" stroke-width="0.6"/>
<path d="M320.83 303.35C321.28 302.28 331.72 302.28 332.17 303.35C331.72 304.42 321.28 304.42 320.83 303.35Z" fill="#2b2b2b" filter="url(#bl)"/>
<path d="M334.03 303.35C334.48 302.28 344.92 302.28 345.37 303.35C344.92 304.42 334.48 304.42 334.03 303.35Z" fill="#2b2b2b" filter="url(#bl)"/>
<path d="M346.93 303.35C347.38 302.15 357.82 302.15 358.27 303.35C357.82 304.55 347.38 304.55 346.93 303.35Z" fill="#202020" filter="url(#bl)"/>
<path d="M360.40 303.35C360.83 302.42 370.77 302.42 371.20 303.35C370.77 304.28 360.83 304.28 360.40 303.35Z" fill="#414141" filter="url(#bl)"/>
<text x="376.00" y="305.70" font-size="4.7" fill="#1a1a1a"><tspan>MCL-1</tspan></text>
<text x="326.50" y="313.20" font-size="4.9" fill="#1a1a1a" text-anchor="middle" font-weight="normal" letter-spacing="0.2">1</text>
<text x="339.70" y="313.20" font-size="4.9" fill="#1a1a1a" text-anchor="middle" font-weight="normal" letter-spacing="0.2">0.8</text>
<text x="352.60" y="313.20" font-size="4.9" fill="#1a1a1a" text-anchor="middle" font-weight="normal" letter-spacing="0.2">0.9</text>
<text x="365.80" y="313.20" font-size="4.9" fill="#1a1a1a" text-anchor="middle" font-weight="normal" letter-spacing="0.2">0.4</text>
<rect x="318.00" y="314.50" width="56.20" height="8.30" rx="1" fill="#d9d9d9" stroke="#2a2a2a" stroke-width="1.2"/>
<rect x="319.00" y="315.50" width="54.20" height="6.30" fill="none" stroke="#f2f2f2" stroke-opacity="0.55" stroke-width="0.6"/>
<path d="M321.64 318.65C322.03 317.58 330.97 317.58 331.36 318.65C330.97 319.72 322.03 319.72 321.64 318.65Z" fill="#2b2b2b" filter="url(#bl)"/>
<path d="M334.84 318.65C335.23 317.58 344.17 317.58 344.56 318.65C344.17 319.72 335.23 319.72 334.84 318.65Z" fill="#2b2b2b" filter="url(#bl)"/>
<path d="M347.74 318.65C348.13 317.58 357.07 317.58 357.46 318.65C357.07 319.72 348.13 319.72 347.74 318.65Z" fill="#2b2b2b" filter="url(#bl)"/>
<path d="M360.67 318.65C361.08 317.52 370.52 317.52 370.93 318.65C370.52 319.78 361.08 319.78 360.67 318.65Z" fill="#202020" filter="url(#bl)"/>
<text x="376.00" y="321.00" font-size="4.7" fill="#1a1a1a"><tspan>BCL-2</tspan></text>
<rect x="318.00" y="323.90" width="56.20" height="13.70" rx="1" fill="#d9d9d9" stroke="#2a2a2a" stroke-width="1.2"/>
<rect x="319.00" y="324.90" width="54.20" height="11.70" fill="none" stroke="#f2f2f2" stroke-opacity="0.55" stroke-width="0.6"/>
<path d="M322.18 332.80C322.53 331.47 330.47 331.47 330.82 332.80C330.47 334.13 322.53 334.13 322.18 332.80Z" fill="#363636" filter="url(#bl)"/>
<path d="M334.30 332.60C334.73 330.87 344.67 330.87 345.10 332.60C344.67 334.33 334.73 334.33 334.30 332.60Z" fill="#151515" filter="url(#bl)"/>
<path d="M346.66 332.50C347.14 330.50 358.06 330.50 358.54 332.50C358.06 334.50 347.14 334.50 346.66 332.50Z" fill="#000000" filter="url(#bl)"/>
<path d="M359.32 332.40C359.84 330.27 371.76 330.27 372.28 332.40C371.76 334.53 359.84 334.53 359.32 332.40Z" fill="#000000" filter="url(#bl)"/>
<ellipse cx="326.50" cy="327.8" rx="4.5" ry="1" fill="#979797" filter="url(#bl)"/>
<ellipse cx="339.70" cy="327.8" rx="4.5" ry="1" fill="#979797" filter="url(#bl)"/>
<ellipse cx="352.60" cy="327.8" rx="4.5" ry="1" fill="#a2a2a2" filter="url(#bl)"/>
<ellipse cx="365.80" cy="327.8" rx="4.5" ry="1" fill="#adadad" filter="url(#bl)"/>
<ellipse cx="326.5" cy="331.6" rx="4" ry="0.8" fill="#888" filter="url(#bl)"/>
<text x="376.00" y="330.10" font-size="4.7" fill="#1a1a1a"><tspan>BIM-EL</tspan></text>
<text x="376.00" y="335.30" font-size="4.7" fill="#1a1a1a"><tspan>BIM-L/S</tspan></text>
<text x="326.50" y="343.70" font-size="4.9" fill="#1a1a1a" text-anchor="middle" font-weight="normal" letter-spacing="0.2">1</text>
<text x="339.70" y="343.70" font-size="4.9" fill="#1a1a1a" text-anchor="middle" font-weight="normal" letter-spacing="0.2">1.3</text>
<text x="352.60" y="343.70" font-size="4.9" fill="#1a1a1a" text-anchor="middle" font-weight="normal" letter-spacing="0.2">1.5</text>
<text x="365.80" y="343.70" font-size="4.9" fill="#1a1a1a" text-anchor="middle" font-weight="normal" letter-spacing="0.2">1.8</text>
<rect x="318.00" y="345.30" width="56.20" height="8.40" rx="1" fill="#d2d2d2" stroke="#2a2a2a" stroke-width="1.2"/>
<rect x="319.00" y="346.30" width="54.20" height="6.40" fill="none" stroke="#f2f2f2" stroke-opacity="0.55" stroke-width="0.6"/>
<path d="M322.18 349.60C322.53 348.00 330.47 348.00 330.82 349.60C330.47 351.20 322.53 351.20 322.18 349.60Z" fill="#2b2b2b" filter="url(#bl)"/>
<path d="M332.41 349.40C332.99 347.53 346.41 347.53 346.99 349.40C346.41 351.27 332.99 351.27 332.41 349.40Z" fill="#202020" filter="url(#bl)"/>
<path d="M345.31 349.40C345.89 347.53 359.31 347.53 359.89 349.40C359.31 351.27 345.89 351.27 345.31 349.40Z" fill="#202020" filter="url(#bl)"/>
<path d="M358.51 349.40C359.09 347.53 372.51 347.53 373.09 349.40C372.51 351.27 359.09 351.27 358.51 349.40Z" fill="#202020" filter="url(#bl)"/>
<text x="376.00" y="351.80" font-size="4.7" fill="#1a1a1a"><tspan>BAX</tspan></text>
<rect x="318.00" y="354.60" width="56.20" height="8.50" rx="1" fill="#a6a6a6" stroke="#2a2a2a" stroke-width="1.2"/>
<rect x="319.00" y="355.60" width="54.20" height="6.50" fill="none" stroke="#f2f2f2" stroke-opacity="0.55" stroke-width="0.6"/>
<path d="M321.10 358.30C321.53 357.10 331.47 357.10 331.90 358.30C331.47 359.50 321.53 359.50 321.10 358.30Z" fill="#0a0a0a" filter="url(#bl)"/>
<path d="M334.30 358.30C334.73 357.10 344.67 357.10 345.10 358.30C344.67 359.50 334.73 359.50 334.30 358.30Z" fill="#0a0a0a" filter="url(#bl)"/>
<path d="M347.20 358.30C347.63 357.10 357.57 357.10 358.00 358.30C357.57 359.50 347.63 359.50 347.20 358.30Z" fill="#0a0a0a" filter="url(#bl)"/>
<path d="M360.67 358.30C361.08 357.23 370.52 357.23 370.93 358.30C370.52 359.37 361.08 359.37 360.67 358.30Z" fill="#0a0a0a" filter="url(#bl)"/>
<text x="376.00" y="360.00" font-size="4.7" fill="#1a1a1a"><tspan>BAK</tspan></text>
<rect x="318.00" y="363.80" width="56.20" height="7.70" rx="1" fill="#ececec" stroke="#2a2a2a" stroke-width="1.2"/>
<rect x="319.00" y="364.80" width="54.20" height="5.70" fill="none" stroke="#f2f2f2" stroke-opacity="0.55" stroke-width="0.6"/>
<path d="M320.02 367.60C320.54 366.67 332.46 366.67 332.98 367.60C332.46 368.53 320.54 368.53 320.02 367.60Z" fill="#414141" filter="url(#bl)"/>
<path d="M333.22 367.60C333.74 366.67 345.66 366.67 346.18 367.60C345.66 368.53 333.74 368.53 333.22 367.60Z" fill="#414141" filter="url(#bl)"/>
<path d="M345.85 367.60C346.39 366.67 358.81 366.67 359.35 367.60C358.81 368.53 346.39 368.53 345.85 367.60Z" fill="#414141" filter="url(#bl)"/>
<path d="M359.05 367.60C359.59 366.67 372.01 366.67 372.55 367.60C372.01 368.53 359.59 368.53 359.05 367.60Z" fill="#4b4b4b" filter="url(#bl)"/>
<text x="376.00" y="368.90" font-size="4.7" fill="#1a1a1a"><tspan>ACTIN</tspan></text>
<text x="408.30" y="273.30" font-size="11.8" fill="#000" text-anchor="start" font-weight="bold" >E</text>
<text x="451.00" y="284.40" font-size="6.6" fill="#111" text-anchor="middle" font-weight="normal" stroke="#111" stroke-width="0.1">MV4-11 (16 h)</text>
<line x1="428.20" y1="286.6" x2="473.60" y2="286.6" stroke="#333" stroke-width="0.7"/>
<text x="436.20" y="292.70" font-size="5" fill="#222" text-anchor="middle" font-weight="normal" >-</text>
<text x="447.40" y="292.70" font-size="5" fill="#222" text-anchor="middle" font-weight="normal" >+</text>
<text x="459.00" y="292.70" font-size="5" fill="#222" text-anchor="middle" font-weight="normal" >-</text>
<text x="471.40" y="292.70" font-size="5" fill="#222" text-anchor="middle" font-weight="normal" >+</text>
<text x="436.20" y="297.70" font-size="5" fill="#222" text-anchor="middle" font-weight="normal" >-</text>
<text x="447.40" y="297.70" font-size="5" fill="#222" text-anchor="middle" font-weight="normal" >-</text>
<text x="459.00" y="297.70" font-size="5" fill="#222" text-anchor="middle" font-weight="normal" >+</text>
<text x="471.40" y="297.70" font-size="5" fill="#222" text-anchor="middle" font-weight="normal" >+</text>
<text x="479.00" y="293.20" font-size="4.8" fill="#222" text-anchor="start" font-weight="normal" >SLC</text>
<text x="479.00" y="298.20" font-size="4.8" fill="#222" text-anchor="start" font-weight="normal" >VEN</text>
<rect x="428.20" y="299.00" width="48.60" height="23.60" rx="1" fill="#dedede" stroke="#2a2a2a" stroke-width="1.2"/>
<rect x="429.20" y="300.00" width="46.60" height="21.60" fill="none" stroke="#f2f2f2" stroke-opacity="0.55" stroke-width="0.6"/>
<path d="M431.61 305.30C431.98 302.23 440.42 302.23 440.79 305.30C440.42 308.37 431.98 308.37 431.61 305.30Z" fill="#9d9d9d" filter="url(#bl2)"/>
<path d="M432.69 304.30C432.97 303.37 439.43 303.37 439.71 304.30C439.43 305.23 432.97 305.23 432.69 304.30Z" fill="#858585" filter="url(#bl)"/>
<path d="M442.81 305.30C443.18 302.23 451.62 302.23 451.99 305.30C451.62 308.37 443.18 308.37 442.81 305.30Z" fill="#9d9d9d" filter="url(#bl2)"/>
<path d="M443.89 304.30C444.17 303.37 450.63 303.37 450.91 304.30C450.63 305.23 444.17 305.23 443.89 304.30Z" fill="#858585" filter="url(#bl)"/>
<path d="M454.41 305.30C454.78 302.23 463.22 302.23 463.59 305.30C463.22 308.37 454.78 308.37 454.41 305.30Z" fill="#a8a8a8" filter="url(#bl2)"/>
<path d="M455.49 304.30C455.77 303.37 462.23 303.37 462.51 304.30C462.23 305.23 455.77 305.23 455.49 304.30Z" fill="#8e8e8e" filter="url(#bl)"/>
<path d="M466.81 305.30C467.18 302.23 475.62 302.23 475.99 305.30C475.62 308.37 467.18 308.37 466.81 305.30Z" fill="#7b7b7b" filter="url(#bl2)"/>
<path d="M467.89 304.30C468.17 303.37 474.63 303.37 474.91 304.30C474.63 305.23 468.17 305.23 467.89 304.30Z" fill="#686868" filter="url(#bl)"/>
<path d="M432.76 303.20C433.02 302.13 438.98 302.13 439.24 303.20C438.98 304.27 433.02 304.27 432.76 303.20Z" fill="#777" filter="url(#bl2)"/>
<path d="M432.15 314.80C432.47 313.80 439.93 313.80 440.25 314.80C439.93 315.80 432.47 315.80 432.15 314.80Z" fill="#9c9c9c" filter="url(#bl)"/>
<path d="M432.15 318.90C432.47 317.90 439.93 317.90 440.25 318.90C439.93 319.90 432.47 319.90 432.15 318.90Z" fill="#979797" filter="url(#bl)"/>
<path d="M443.35 314.80C443.67 313.80 451.13 313.80 451.45 314.80C451.13 315.80 443.67 315.80 443.35 314.80Z" fill="#a2a2a2" filter="url(#bl)"/>
<path d="M443.35 318.90C443.67 317.90 451.13 317.90 451.45 318.90C451.13 319.90 443.67 319.90 443.35 318.90Z" fill="#a2a2a2" filter="url(#bl)"/>
<path d="M454.95 314.80C455.27 313.80 462.73 313.80 463.05 314.80C462.73 315.80 455.27 315.80 454.95 314.80Z" fill="#8c8c8c" filter="url(#bl)"/>
<path d="M454.95 318.90C455.27 317.90 462.73 317.90 463.05 318.90C462.73 319.90 455.27 319.90 454.95 318.90Z" fill="#979797" filter="url(#bl)"/>
<path d="M467.35 314.80C467.67 313.80 475.13 313.80 475.45 314.80C475.13 315.80 467.67 315.80 467.35 314.80Z" fill="#151515" filter="url(#bl)"/>
<path d="M467.35 318.90C467.67 317.90 475.13 317.90 475.45 318.90C475.13 319.90 467.67 319.90 467.35 318.90Z" fill="#1a1a1a" filter="url(#bl)"/>
<text x="479.30" y="309.10" font-size="4.8" fill="#1a1a1a"><tspan>BIM EL</tspan></text>
<text x="479.30" y="320.10" font-size="4.8" fill="#1a1a1a"><tspan>BIM L/S</tspan></text>
<text x="436.20" y="328.50" font-size="4.9" fill="#1a1a1a" text-anchor="middle" font-weight="normal" letter-spacing="0.2">1</text>
<text x="447.40" y="328.50" font-size="4.9" fill="#1a1a1a" text-anchor="middle" font-weight="normal" letter-spacing="0.2">0.9</text>
<text x="459.00" y="328.50" font-size="4.9" fill="#1a1a1a" text-anchor="middle" font-weight="normal" letter-spacing="0.2">0.9</text>
<text x="471.40" y="328.50" font-size="4.9" fill="#1a1a1a" text-anchor="middle" font-weight="normal" letter-spacing="0.2">1.5</text>
<rect x="427.80" y="328.60" width="49.40" height="10.10" rx="1" fill="#d0d0d0" stroke="#2a2a2a" stroke-width="1.2"/>
<rect x="428.80" y="329.60" width="47.40" height="8.10" fill="none" stroke="#f2f2f2" stroke-opacity="0.55" stroke-width="0.6"/>
<path d="M430.80 334.30C431.23 332.43 441.17 332.43 441.60 334.30C441.17 336.17 431.23 336.17 430.80 334.30Z" fill="#000000" filter="url(#bl)"/>
<path d="M442.27 334.30C442.68 332.57 452.12 332.57 452.53 334.30C452.12 336.03 442.68 336.03 442.27 334.30Z" fill="#000000" filter="url(#bl)"/>
<path d="M455.22 334.30C455.52 333.10 462.48 333.10 462.78 334.30C462.48 335.50 455.52 335.50 455.22 334.30Z" fill="#565656" filter="url(#bl)"/>
<path d="M466.81 334.30C467.18 332.83 475.62 332.83 475.99 334.30C475.62 335.77 467.18 335.77 466.81 334.30Z" fill="#151515" filter="url(#bl)"/>
<text x="479.30" y="337.70" font-size="4.8" fill="#1a1a1a"><tspan>BCL-2</tspan></text>
<text x="436.20" y="344.50" font-size="4.9" fill="#1a1a1a" text-anchor="middle" font-weight="normal" letter-spacing="0.2">1</text>
<text x="447.40" y="344.50" font-size="4.9" fill="#1a1a1a" text-anchor="middle" font-weight="normal" letter-spacing="0.2">0.9</text>
<text x="459.00" y="344.50" font-size="4.9" fill="#1a1a1a" text-anchor="middle" font-weight="normal" letter-spacing="0.2">0.3</text>
<text x="471.40" y="344.50" font-size="4.9" fill="#1a1a1a" text-anchor="middle" font-weight="normal" letter-spacing="0.2">0.5</text>
<rect x="427.80" y="345.50" width="49.40" height="10.10" rx="1" fill="#cccccc" stroke="#2a2a2a" stroke-width="1.2"/>
<rect x="428.80" y="346.50" width="47.40" height="8.10" fill="none" stroke="#f2f2f2" stroke-opacity="0.55" stroke-width="0.6"/>
<path d="M432.15 350.00C432.47 348.67 439.93 348.67 440.25 350.00C439.93 351.33 432.47 351.33 432.15 350.00Z" fill="#2b2b2b" filter="url(#bl)"/>
<path d="M443.89 350.00C444.17 348.93 450.63 348.93 450.91 350.00C450.63 351.07 444.17 351.07 443.89 350.00Z" fill="#828282" filter="url(#bl)"/>
<path d="M454.14 350.00C454.53 348.27 463.47 348.27 463.86 350.00C463.47 351.73 454.53 351.73 454.14 350.00Z" fill="#0a0a0a" filter="url(#bl)"/>
<path d="M467.08 350.00C467.43 348.53 475.37 348.53 475.72 350.00C475.37 351.47 467.43 351.47 467.08 350.00Z" fill="#2b2b2b" filter="url(#bl)"/>
<text x="479.30" y="353.30" font-size="4.8" fill="#1a1a1a"><tspan>BAX</tspan></text>
<text x="436.20" y="360.90" font-size="4.9" fill="#1a1a1a" text-anchor="middle" font-weight="normal" letter-spacing="0.2">1</text>
<text x="447.40" y="360.90" font-size="4.9" fill="#1a1a1a" text-anchor="middle" font-weight="normal" letter-spacing="0.2">0.6</text>
<text x="459.00" y="360.90" font-size="4.9" fill="#1a1a1a" text-anchor="middle" font-weight="normal" letter-spacing="0.2">1.5</text>
<text x="471.40" y="360.90" font-size="4.9" fill="#1a1a1a" text-anchor="middle" font-weight="normal" letter-spacing="0.2">1.1</text>
<rect x="427.80" y="362.40" width="49.40" height="10.20" rx="1" fill="#c9c9c9" stroke="#2a2a2a" stroke-width="1.2"/>
<rect x="428.80" y="363.40" width="47.40" height="8.20" fill="none" stroke="#f2f2f2" stroke-opacity="0.55" stroke-width="0.6"/>
<path d="M431.88 367.50C432.23 366.17 440.17 366.17 440.52 367.50C440.17 368.83 432.23 368.83 431.88 367.50Z" fill="#4b4b4b" filter="url(#bl)"/>
<path d="M443.62 367.50C443.92 366.30 450.88 366.30 451.18 367.50C450.88 368.70 443.92 368.70 443.62 367.50Z" fill="#828282" filter="url(#bl)"/>
<path d="M454.68 367.50C455.03 366.17 462.97 366.17 463.32 367.50C462.97 368.83 455.03 368.83 454.68 367.50Z" fill="#4b4b4b" filter="url(#bl)"/>
<path d="M466.81 367.50C467.18 366.03 475.62 366.03 475.99 367.50C475.62 368.97 467.18 368.97 466.81 367.50Z" fill="#363636" filter="url(#bl)"/>
<text x="479.30" y="369.60" font-size="4.8" fill="#1a1a1a"><tspan>BAK</tspan></text>
<text x="436.20" y="378.70" font-size="4.9" fill="#1a1a1a" text-anchor="middle" font-weight="normal" letter-spacing="0.2">1</text>
<text x="447.40" y="378.70" font-size="4.9" fill="#1a1a1a" text-anchor="middle" font-weight="normal" letter-spacing="0.2">0.6</text>
<text x="459.00" y="378.70" font-size="4.9" fill="#1a1a1a" text-anchor="middle" font-weight="normal" letter-spacing="0.2">1.1</text>
<text x="471.40" y="378.70" font-size="4.9" fill="#1a1a1a" text-anchor="middle" font-weight="normal" letter-spacing="0.2">1.5</text>
<line x1="426.7" y1="299" x2="426.7" y2="378.5" stroke="#8a8a8a" stroke-width="1.3"/>
<text x="423" y="337.8" font-size="4.7" fill="#222" text-anchor="middle" transform="rotate(-90 423 337.8)">IP:BIM</text>
<rect x="0.5" y="0.5" width="519" height="392" fill="none" stroke="#000" stroke-width="1.2"/>
</svg></body></html>
